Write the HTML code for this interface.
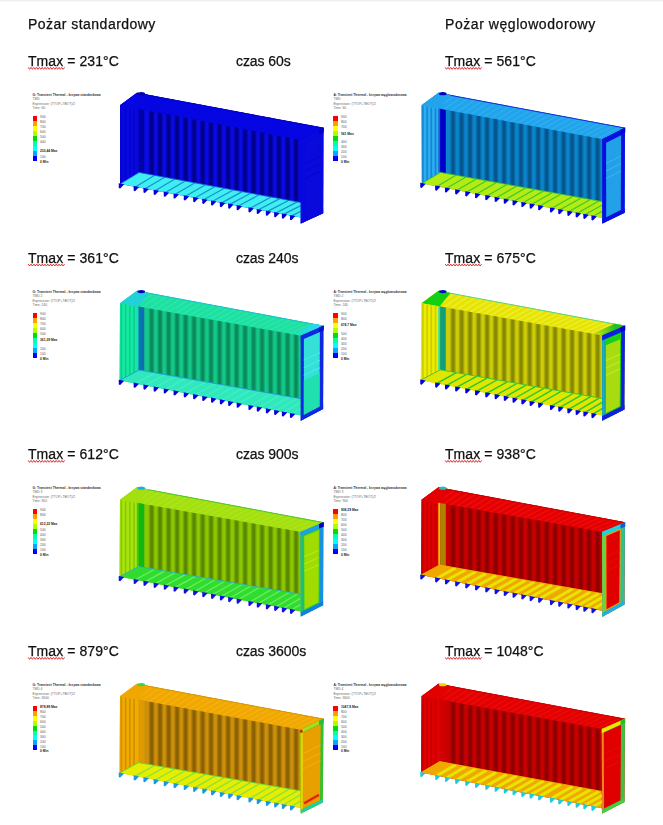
<!DOCTYPE html>
<html><head><meta charset="utf-8"><style>
html,body{margin:0;padding:0;background:#fff;}
body{width:663px;height:825px;position:relative;overflow:hidden;font-family:"Liberation Sans",sans-serif;}
.topbar{position:absolute;left:0;top:0;width:663px;height:1px;background:#f0f0f0;box-shadow:0 1px 0 #f9f9f9;}
.tx{position:absolute;font-size:14px;line-height:14px;color:#111;white-space:nowrap;-webkit-text-stroke:0.25px #111;will-change:transform;}
.h1{letter-spacing:0.47px;}
.h2{letter-spacing:0.56px;}
.tl,.tr{letter-spacing:0.07px;}
.tm{letter-spacing:-0.07px;}
svg{position:absolute;left:0;top:0;filter:blur(0.5px);}
.lt{position:absolute;font-size:3.3px;line-height:3.3px;font-weight:bold;color:#333;white-space:nowrap;}
.ls{position:absolute;font-size:3.3px;line-height:3.2px;color:#6a6a6a;white-space:nowrap;}
.ll{position:absolute;font-size:3.4px;line-height:3.2px;color:#5a5a5a;white-space:nowrap;}
.lm{position:absolute;font-size:3.3px;line-height:3.3px;font-weight:bold;color:#222;white-space:nowrap;}
.lb{position:absolute;width:4.5px;}
</style></head><body>
<div class="topbar"></div>
<svg width="663" height="825" viewBox="0 0 663 825">
<defs><linearGradient id="g1" x1="0" y1="0" x2="1" y2="0"><stop offset="0" stop-color="#000088" stop-opacity="0"/><stop offset="0.38" stop-color="#000088"/><stop offset="0.62" stop-color="#000088"/><stop offset="1" stop-color="#000088" stop-opacity="0"/></linearGradient><clipPath id="fc1"><polygon points="120.0,184.0 139.0,172.4 300.8,202.5 300.8,217.6"/></clipPath><linearGradient id="g2" x1="0" y1="0" x2="1" y2="0"><stop offset="0" stop-color="#05558c" stop-opacity="0"/><stop offset="0.38" stop-color="#05558c"/><stop offset="0.62" stop-color="#05558c"/><stop offset="1" stop-color="#05558c" stop-opacity="0"/></linearGradient><clipPath id="fc2"><polygon points="421.8,183.5 440.5,172.4 602.3,201.6 602.3,217.9"/></clipPath><linearGradient id="g3" x1="0" y1="0" x2="1" y2="0"><stop offset="0" stop-color="#0a8a5a" stop-opacity="0"/><stop offset="0.38" stop-color="#0a8a5a"/><stop offset="0.62" stop-color="#0a8a5a"/><stop offset="1" stop-color="#0a8a5a" stop-opacity="0"/></linearGradient><linearGradient id="rc3" x1="0" y1="0" x2="1" y2="0"><stop offset="0" stop-color="#28d8f0" stop-opacity="0"/><stop offset="0.7" stop-color="#28d8f0"/></linearGradient><clipPath id="fc3"><polygon points="119.6,380.4 139.1,370.0 300.8,398.7 300.8,415.6"/></clipPath><linearGradient id="g4" x1="0" y1="0" x2="1" y2="0"><stop offset="0" stop-color="#868800" stop-opacity="0"/><stop offset="0.38" stop-color="#868800"/><stop offset="0.62" stop-color="#868800"/><stop offset="1" stop-color="#868800" stop-opacity="0"/></linearGradient><linearGradient id="rc4" x1="0" y1="0" x2="1" y2="0"><stop offset="0" stop-color="#20c020" stop-opacity="0"/><stop offset="0.7" stop-color="#20c020"/></linearGradient><clipPath id="fc4"><polygon points="420.8,380.2 440.1,369.8 602.1,398.4 602.1,415.6"/></clipPath><linearGradient id="g5" x1="0" y1="0" x2="1" y2="0"><stop offset="0" stop-color="#5a8700" stop-opacity="0"/><stop offset="0.38" stop-color="#5a8700"/><stop offset="0.62" stop-color="#5a8700"/><stop offset="1" stop-color="#5a8700" stop-opacity="0"/></linearGradient><clipPath id="fc5"><polygon points="119.5,576.7 138.6,566.5 300.5,594.2 300.5,611.4"/></clipPath><linearGradient id="g6" x1="0" y1="0" x2="1" y2="0"><stop offset="0" stop-color="#8c0000" stop-opacity="0"/><stop offset="0.38" stop-color="#8c0000"/><stop offset="0.62" stop-color="#8c0000"/><stop offset="1" stop-color="#8c0000" stop-opacity="0"/></linearGradient><clipPath id="fc6"><polygon points="421.0,575.1 439.5,565.0 602.1,593.6 602.1,610.8"/></clipPath><linearGradient id="g7" x1="0" y1="0" x2="1" y2="0"><stop offset="0" stop-color="#8a6000" stop-opacity="0"/><stop offset="0.38" stop-color="#8a6000"/><stop offset="0.62" stop-color="#8a6000"/><stop offset="1" stop-color="#8a6000" stop-opacity="0"/></linearGradient><clipPath id="fc7"><polygon points="119.6,773.1 138.4,762.6 300.5,790.8 300.5,808.0"/></clipPath><linearGradient id="g8" x1="0" y1="0" x2="1" y2="0"><stop offset="0" stop-color="#8c0000" stop-opacity="0"/><stop offset="0.38" stop-color="#8c0000"/><stop offset="0.62" stop-color="#8c0000"/><stop offset="1" stop-color="#8c0000" stop-opacity="0"/></linearGradient><clipPath id="fc8"><polygon points="421.0,772.6 439.7,761.6 601.8,791.4 601.8,808.3"/></clipPath></defs>
<polygon points="120.0,105.3 137.0,92.8 323.5,127.8 323.2,213.2 300.8,223.6 300.8,217.6 120.0,184.0" fill="#0606e2"/>
<polygon points="120.0,105.3 137.0,92.8 323.5,127.8 300.8,140.0" fill="#0606e2"/>
<polygon points="138.0,93.0 140.5,93.4 123.3,105.9 121.0,105.5" fill="#0606e2"/>
<polygon points="144.9,94.3 147.4,94.7 130.0,107.2 127.7,106.8" fill="#0606e2"/>
<polygon points="151.9,95.6 154.3,96.0 136.7,108.5 134.4,108.1" fill="#0606e2"/>
<polygon points="158.8,96.9 161.2,97.3 143.4,109.8 141.1,109.3" fill="#0606e2"/>
<polygon points="165.7,98.2 168.1,98.6 150.1,111.1 147.8,110.6" fill="#0606e2"/>
<polygon points="172.6,99.5 175.0,99.9 156.8,112.4 154.5,111.9" fill="#0606e2"/>
<polygon points="179.5,100.8 181.9,101.2 163.5,113.7 161.2,113.2" fill="#0606e2"/>
<polygon points="186.4,102.1 188.8,102.5 170.2,114.9 167.9,114.5" fill="#0606e2"/>
<polygon points="193.3,103.4 195.7,103.8 176.9,116.2 174.6,115.8" fill="#0606e2"/>
<polygon points="200.2,104.7 202.6,105.1 183.6,117.5 181.3,117.1" fill="#0606e2"/>
<polygon points="207.1,106.0 209.5,106.4 190.3,118.8 188.0,118.3" fill="#0606e2"/>
<polygon points="214.0,107.3 216.4,107.7 197.0,120.1 194.7,119.6" fill="#0606e2"/>
<polygon points="220.9,108.5 223.3,109.0 203.7,121.4 201.4,120.9" fill="#0606e2"/>
<polygon points="227.8,109.8 230.2,110.3 210.4,122.7 208.1,122.2" fill="#0606e2"/>
<polygon points="234.7,111.1 237.2,111.6 217.1,123.9 214.8,123.5" fill="#0606e2"/>
<polygon points="241.6,112.4 244.1,112.9 223.8,125.2 221.4,124.8" fill="#0606e2"/>
<polygon points="248.6,113.7 251.0,114.2 230.5,126.5 228.1,126.1" fill="#0606e2"/>
<polygon points="255.5,115.0 257.9,115.5 237.2,127.8 234.8,127.3" fill="#0606e2"/>
<polygon points="262.4,116.3 264.8,116.8 243.9,129.1 241.5,128.6" fill="#0606e2"/>
<polygon points="269.3,117.6 271.7,118.1 250.6,130.4 248.2,129.9" fill="#0606e2"/>
<polygon points="276.2,118.9 278.6,119.4 257.3,131.6 254.9,131.2" fill="#0606e2"/>
<polygon points="283.1,120.2 285.5,120.7 264.0,132.9 261.6,132.5" fill="#0606e2"/>
<polygon points="290.0,121.5 292.4,122.0 270.7,134.2 268.3,133.8" fill="#0606e2"/>
<polygon points="296.9,122.8 299.3,123.3 277.4,135.5 275.0,135.1" fill="#0606e2"/>
<polygon points="303.8,124.1 306.2,124.6 284.1,136.8 281.7,136.3" fill="#0606e2"/>
<polygon points="310.7,125.4 313.1,125.9 290.8,138.1 288.4,137.6" fill="#0606e2"/>
<polygon points="317.6,126.7 320.0,127.2 297.5,139.4 295.1,138.9" fill="#0606e2"/>
<line x1="137.0" y1="93.1" x2="323.5" y2="128.1" stroke="#0000b8" stroke-width="0.8"/>
<polygon points="120.0,105.3 137.0,92.8 149.0,95.1 138.0,109.0" fill="#0606e2"/>
<polygon points="120.0,105.3 137.5,108.7 137.5,172.4 120.0,184.0" fill="#0808e0"/>
<rect x="120.6" y="105.9" width="1.6" height="77.7" fill="#0404cc"/>
<rect x="124.8" y="106.7" width="1.6" height="74.3" fill="#0404cc"/>
<rect x="129.0" y="107.5" width="1.6" height="71.0" fill="#0404cc"/>
<rect x="133.2" y="108.3" width="1.6" height="67.6" fill="#0404cc"/>
<polygon points="137.5,108.7 300.8,140.0 300.8,202.5 137.5,172.1" fill="#0a0ae4"/>
<polygon points="148.2,110.7 155.0,112.0 155.0,175.4 148.2,174.1" fill="url(#g1)"/>
<polygon points="156.7,112.3 163.5,113.6 163.5,177.0 156.7,175.7" fill="url(#g1)"/>
<polygon points="165.2,114.0 172.0,115.3 172.0,178.5 165.2,177.3" fill="url(#g1)"/>
<polygon points="173.7,115.6 180.5,116.9 180.5,180.1 173.7,178.9" fill="url(#g1)"/>
<polygon points="182.2,117.2 189.0,118.5 189.0,181.7 182.2,180.4" fill="url(#g1)"/>
<polygon points="190.7,118.9 197.5,120.2 197.5,183.3 190.7,182.0" fill="url(#g1)"/>
<polygon points="199.2,120.5 206.0,121.8 206.0,184.9 199.2,183.6" fill="url(#g1)"/>
<polygon points="207.7,122.1 214.5,123.4 214.5,186.4 207.7,185.2" fill="url(#g1)"/>
<polygon points="216.2,123.8 223.0,125.1 223.0,188.0 216.2,186.8" fill="url(#g1)"/>
<polygon points="224.7,125.4 231.5,126.7 231.5,189.6 224.7,188.3" fill="url(#g1)"/>
<polygon points="233.2,127.0 240.0,128.3 240.0,191.2 233.2,189.9" fill="url(#g1)"/>
<polygon points="241.7,128.7 248.5,130.0 248.5,192.8 241.7,191.5" fill="url(#g1)"/>
<polygon points="250.2,130.3 257.0,131.6 257.0,194.4 250.2,193.1" fill="url(#g1)"/>
<polygon points="258.7,131.9 265.5,133.2 265.5,195.9 258.7,194.7" fill="url(#g1)"/>
<polygon points="267.2,133.6 274.0,134.9 274.0,197.5 267.2,196.2" fill="url(#g1)"/>
<polygon points="275.7,135.2 282.5,136.5 282.5,199.1 275.7,197.8" fill="url(#g1)"/>
<polygon points="284.2,136.8 291.0,138.1 291.0,200.7 284.2,199.4" fill="url(#g1)"/>
<polygon points="292.7,138.4 299.5,139.8 299.5,202.3 292.7,201.0" fill="url(#g1)"/>
<polygon points="136.8,108.5 138.6,108.9 138.6,172.3 136.8,172.0" fill="#0a0ad8"/>
<polygon points="138.6,108.9 144.3,110.0 144.3,173.4 138.6,172.3" fill="#0000a8"/>
<polygon points="120.0,184.0 139.0,172.4 300.8,202.5 300.8,217.6" fill="#3eeef2"/>
<g clip-path="url(#fc1)" stroke="#1a90c8" stroke-width="1.2"><line x1="154.6" y1="175.3" x2="135.4" y2="186.9"/><line x1="164.6" y1="177.2" x2="145.2" y2="188.7"/><line x1="174.9" y1="179.1" x2="155.4" y2="190.6"/><line x1="185.2" y1="181.0" x2="165.5" y2="192.5"/><line x1="195.1" y1="182.8" x2="175.3" y2="194.3"/><line x1="205.5" y1="184.8" x2="185.5" y2="196.2"/><line x1="215.1" y1="186.5" x2="194.9" y2="197.9"/><line x1="224.3" y1="188.3" x2="204.0" y2="199.6"/><line x1="233.2" y1="189.9" x2="212.8" y2="201.2"/><line x1="242.2" y1="191.6" x2="221.6" y2="202.9"/><line x1="250.6" y1="193.2" x2="229.9" y2="204.4"/><line x1="259.2" y1="194.8" x2="238.4" y2="206.0"/><line x1="271.2" y1="197.0" x2="250.2" y2="208.2"/><line x1="279.7" y1="198.6" x2="258.5" y2="209.7"/><line x1="288.9" y1="200.3" x2="267.6" y2="211.4"/><line x1="297.3" y1="201.9" x2="275.9" y2="213.0"/><line x1="305.2" y1="203.3" x2="283.6" y2="214.4"/><line x1="313.4" y1="204.8" x2="291.7" y2="215.9"/></g>
<polyline points="120.0,184.0 139.0,172.4 300.8,202.5" fill="none" stroke="#1a50e0" stroke-width="0.8"/>
<polygon points="118.7,183.2 124.2,184.3 120.2,188.4 118.8,188.0" fill="#0000d8"/>
<polygon points="133.6,186.0 139.1,187.1 135.1,191.2 133.7,190.8" fill="#0000d8"/>
<polygon points="143.4,187.8 148.9,188.9 144.9,193.0 143.5,192.6" fill="#0000d8"/>
<polygon points="153.6,189.7 159.1,190.8 155.1,194.9 153.7,194.5" fill="#0000d8"/>
<polygon points="163.7,191.6 169.2,192.7 165.2,196.8 163.8,196.4" fill="#0000d8"/>
<polygon points="173.5,193.4 179.0,194.5 175.0,198.6 173.6,198.2" fill="#0000d8"/>
<polygon points="183.7,195.3 189.2,196.4 185.2,200.5 183.8,200.1" fill="#0000d8"/>
<polygon points="193.1,197.0 198.6,198.1 194.6,202.2 193.2,201.8" fill="#0000d8"/>
<polygon points="202.2,198.7 207.7,199.8 203.7,203.9 202.3,203.5" fill="#0000d8"/>
<polygon points="211.0,200.4 216.5,201.5 212.5,205.6 211.1,205.2" fill="#0000d8"/>
<polygon points="219.8,202.0 225.3,203.1 221.3,207.2 219.9,206.8" fill="#0000d8"/>
<polygon points="228.1,203.5 233.6,204.6 229.6,208.7 228.2,208.3" fill="#0000d8"/>
<polygon points="236.6,205.1 242.1,206.2 238.1,210.3 236.7,209.9" fill="#0000d8"/>
<polygon points="248.4,207.3 253.9,208.4 249.9,212.5 248.5,212.1" fill="#0000d8"/>
<polygon points="256.7,208.9 262.2,210.0 258.2,214.1 256.8,213.7" fill="#0000d8"/>
<polygon points="265.8,210.6 271.3,211.7 267.3,215.8 265.9,215.4" fill="#0000d8"/>
<polygon points="274.1,212.1 279.6,213.2 275.6,217.3 274.2,216.9" fill="#0000d8"/>
<polygon points="281.8,213.5 287.3,214.6 283.3,218.7 281.9,218.3" fill="#0000d8"/>
<polygon points="289.9,215.0 295.4,216.1 291.4,220.2 290.0,219.8" fill="#0000d8"/>
<polygon points="300.8,140.0 323.5,127.8 323.2,213.2 300.8,223.6" fill="#0808e0"/>
<polygon points="300.8,140.0 304.6,138.0 304.6,221.8 300.8,223.6" fill="#0808e0"/>
<polygon points="300.8,223.6 323.2,213.2 323.2,208.6 300.8,219.0" fill="#0808e0"/>
<polygon points="300.8,140.0 323.5,127.8 323.0,133.2 300.8,145.4" fill="#0808e0"/>
<polygon points="304.6,143.4 319.6,135.3 319.3,210.4 304.6,217.2" fill="#0a0adc"/>
<line x1="304.6" y1="164.0" x2="319.5" y2="156.3" stroke="#0606d0" stroke-width="1.1"/>
<line x1="304.6" y1="171.4" x2="319.5" y2="163.8" stroke="#0606d0" stroke-width="1.1"/>
<line x1="304.6" y1="178.8" x2="319.5" y2="171.4" stroke="#0606d0" stroke-width="1.1"/>
<polygon points="319.0,129.9 323.8,127.5 323.8,132.3 319.0,134.4" fill="#0000c8"/>
<ellipse cx="141.3" cy="93.7" rx="3.8" ry="1.6" fill="#0000b0"/>
<polygon points="421.5,105.3 438.5,92.8 625.0,127.8 624.7,212.8 602.4,223.6 602.3,217.9 421.8,183.5" fill="#22a4ec"/>
<polygon points="421.5,105.3 438.5,92.8 625.0,127.8 602.3,139.2" fill="#22a4ec"/>
<polygon points="439.5,93.0 442.0,93.4 424.8,105.9 422.5,105.5" fill="#2eacf0"/>
<polygon points="446.4,94.3 448.9,94.7 431.5,107.2 429.2,106.7" fill="#2eacf0"/>
<polygon points="453.4,95.6 455.8,96.0 438.2,108.4 435.9,108.0" fill="#2eacf0"/>
<polygon points="460.3,96.9 462.7,97.3 444.9,109.7 442.6,109.3" fill="#2eacf0"/>
<polygon points="467.2,98.2 469.6,98.6 451.6,110.9 449.3,110.5" fill="#2eacf0"/>
<polygon points="474.1,99.5 476.5,99.9 458.3,112.2 456.0,111.8" fill="#2eacf0"/>
<polygon points="481.0,100.8 483.4,101.2 465.0,113.5 462.7,113.0" fill="#2eacf0"/>
<polygon points="487.9,102.1 490.3,102.5 471.7,114.7 469.4,114.3" fill="#2eacf0"/>
<polygon points="494.8,103.4 497.2,103.8 478.4,116.0 476.1,115.5" fill="#2eacf0"/>
<polygon points="501.7,104.7 504.1,105.1 485.1,117.2 482.8,116.8" fill="#2eacf0"/>
<polygon points="508.6,106.0 511.0,106.4 491.8,118.5 489.5,118.0" fill="#2eacf0"/>
<polygon points="515.5,107.3 517.9,107.7 498.5,119.7 496.2,119.3" fill="#2eacf0"/>
<polygon points="522.4,108.5 524.8,109.0 505.2,121.0 502.9,120.6" fill="#2eacf0"/>
<polygon points="529.3,109.8 531.8,110.3 511.9,122.2 509.6,121.8" fill="#2eacf0"/>
<polygon points="536.2,111.1 538.7,111.6 518.6,123.5 516.3,123.1" fill="#2eacf0"/>
<polygon points="543.1,112.4 545.6,112.9 525.3,124.8 522.9,124.3" fill="#2eacf0"/>
<polygon points="550.1,113.7 552.5,114.2 532.0,126.0 529.6,125.6" fill="#2eacf0"/>
<polygon points="557.0,115.0 559.4,115.5 538.7,127.3 536.3,126.8" fill="#2eacf0"/>
<polygon points="563.9,116.3 566.3,116.8 545.4,128.5 543.0,128.1" fill="#2eacf0"/>
<polygon points="570.8,117.6 573.2,118.1 552.1,129.8 549.7,129.3" fill="#2eacf0"/>
<polygon points="577.7,118.9 580.1,119.4 558.8,131.0 556.4,130.6" fill="#2eacf0"/>
<polygon points="584.6,120.2 587.0,120.7 565.5,132.3 563.1,131.9" fill="#2eacf0"/>
<polygon points="591.5,121.5 593.9,122.0 572.2,133.5 569.8,133.1" fill="#2eacf0"/>
<polygon points="598.4,122.8 600.8,123.3 578.9,134.8 576.5,134.4" fill="#2eacf0"/>
<polygon points="605.3,124.1 607.7,124.6 585.6,136.1 583.2,135.6" fill="#2eacf0"/>
<polygon points="612.2,125.4 614.6,125.9 592.3,137.3 589.9,136.9" fill="#2eacf0"/>
<polygon points="619.1,126.7 621.5,127.2 599.0,138.6 596.6,138.1" fill="#2eacf0"/>
<line x1="438.5" y1="93.1" x2="625.0" y2="128.1" stroke="#0a10d0" stroke-width="0.8"/>
<polygon points="421.5,105.3 438.5,92.8 450.5,95.1 439.5,108.9" fill="#22a4ec"/>
<polygon points="421.5,105.3 439.0,108.6 439.0,172.4 421.8,183.5" fill="#2cacf2"/>
<rect x="422.1" y="105.9" width="1.6" height="77.4" fill="#1486d0"/>
<rect x="426.3" y="106.7" width="1.6" height="74.1" fill="#1486d0"/>
<rect x="430.5" y="107.5" width="1.6" height="70.8" fill="#1486d0"/>
<rect x="434.7" y="108.3" width="1.6" height="67.6" fill="#1486d0"/>
<polygon points="439.0,108.6 602.3,139.2 602.3,201.6 439.0,172.1" fill="#0a84ca"/>
<polygon points="449.7,110.6 456.5,111.9 456.5,175.3 449.7,174.1" fill="url(#g2)"/>
<polygon points="458.2,112.2 465.0,113.5 465.0,176.8 458.2,175.6" fill="url(#g2)"/>
<polygon points="466.7,113.8 473.5,115.0 473.5,178.4 466.7,177.1" fill="url(#g2)"/>
<polygon points="475.2,115.4 482.0,116.6 482.0,179.9 475.2,178.7" fill="url(#g2)"/>
<polygon points="483.7,117.0 490.5,118.2 490.5,181.4 483.7,180.2" fill="url(#g2)"/>
<polygon points="492.2,118.6 499.0,119.8 499.0,183.0 492.2,181.7" fill="url(#g2)"/>
<polygon points="500.7,120.1 507.5,121.4 507.5,184.5 500.7,183.3" fill="url(#g2)"/>
<polygon points="509.2,121.7 516.0,123.0 516.0,186.0 509.2,184.8" fill="url(#g2)"/>
<polygon points="517.7,123.3 524.5,124.6 524.5,187.6 517.7,186.3" fill="url(#g2)"/>
<polygon points="526.2,124.9 533.0,126.2 533.0,189.1 526.2,187.9" fill="url(#g2)"/>
<polygon points="534.7,126.5 541.5,127.8 541.5,190.6 534.7,189.4" fill="url(#g2)"/>
<polygon points="543.2,128.1 550.0,129.4 550.0,192.2 543.2,190.9" fill="url(#g2)"/>
<polygon points="551.7,129.7 558.5,131.0 558.5,193.7 551.7,192.5" fill="url(#g2)"/>
<polygon points="560.2,131.3 567.0,132.6 567.0,195.2 560.2,194.0" fill="url(#g2)"/>
<polygon points="568.7,132.9 575.5,134.2 575.5,196.8 568.7,195.5" fill="url(#g2)"/>
<polygon points="577.2,134.5 584.0,135.8 584.0,198.3 577.2,197.1" fill="url(#g2)"/>
<polygon points="585.7,136.1 592.5,137.4 592.5,199.8 585.7,198.6" fill="url(#g2)"/>
<polygon points="594.2,137.7 601.0,139.0 601.0,201.4 594.2,200.1" fill="url(#g2)"/>
<polygon points="438.3,108.5 440.1,108.8 440.1,172.3 438.3,172.0" fill="#1a60d0"/>
<polygon points="440.1,108.8 445.8,109.9 445.8,173.4 440.1,172.3" fill="#0000c8"/>
<polygon points="421.8,183.5 440.5,172.4 602.3,201.6 602.3,217.9" fill="#b2ec14"/>
<g clip-path="url(#fc2)" stroke="#40c828" stroke-width="1.2"><line x1="455.8" y1="175.2" x2="436.9" y2="186.4"/><line x1="465.8" y1="177.0" x2="446.7" y2="188.2"/><line x1="476.2" y1="178.9" x2="456.9" y2="190.2"/><line x1="486.5" y1="180.8" x2="467.0" y2="192.1"/><line x1="496.4" y1="182.6" x2="476.8" y2="194.0"/><line x1="506.8" y1="184.5" x2="487.0" y2="195.9"/><line x1="516.4" y1="186.2" x2="496.4" y2="197.7"/><line x1="525.6" y1="187.9" x2="505.5" y2="199.5"/><line x1="534.6" y1="189.5" x2="514.3" y2="201.1"/><line x1="543.5" y1="191.1" x2="523.1" y2="202.8"/><line x1="552.0" y1="192.7" x2="531.4" y2="204.4"/><line x1="560.6" y1="194.2" x2="539.9" y2="206.0"/><line x1="572.6" y1="196.4" x2="551.7" y2="208.3"/><line x1="581.1" y1="197.9" x2="560.0" y2="209.8"/><line x1="590.3" y1="199.6" x2="569.1" y2="211.6"/><line x1="598.8" y1="201.1" x2="577.4" y2="213.2"/><line x1="606.6" y1="202.6" x2="585.1" y2="214.6"/><line x1="614.8" y1="204.1" x2="593.2" y2="216.2"/></g>
<polyline points="421.8,183.5 440.5,172.4 602.3,201.6" fill="none" stroke="#30b830" stroke-width="0.8"/>
<polygon points="420.2,182.7 425.7,183.8 421.7,187.9 420.3,187.5" fill="#0000e0"/>
<polygon points="435.1,185.5 440.6,186.6 436.6,190.7 435.2,190.3" fill="#0000e0"/>
<polygon points="444.9,187.4 450.4,188.5 446.4,192.6 445.0,192.2" fill="#0000e0"/>
<polygon points="455.1,189.3 460.6,190.4 456.6,194.5 455.2,194.1" fill="#0000e0"/>
<polygon points="465.2,191.2 470.7,192.3 466.7,196.4 465.3,196.0" fill="#0000e0"/>
<polygon points="475.0,193.1 480.5,194.2 476.5,198.3 475.1,197.9" fill="#0000e0"/>
<polygon points="485.2,195.0 490.7,196.1 486.7,200.2 485.3,199.8" fill="#0000e0"/>
<polygon points="494.6,196.8 500.1,197.9 496.1,202.0 494.7,201.6" fill="#0000e0"/>
<polygon points="503.7,198.6 509.2,199.7 505.2,203.8 503.8,203.4" fill="#0000e0"/>
<polygon points="512.5,200.2 518.0,201.3 514.0,205.4 512.6,205.0" fill="#0000e0"/>
<polygon points="521.3,201.9 526.8,203.0 522.8,207.1 521.4,206.7" fill="#0000e0"/>
<polygon points="529.6,203.5 535.1,204.6 531.1,208.7 529.7,208.3" fill="#0000e0"/>
<polygon points="538.1,205.1 543.6,206.2 539.6,210.3 538.2,209.9" fill="#0000e0"/>
<polygon points="549.9,207.4 555.4,208.5 551.4,212.6 550.0,212.2" fill="#0000e0"/>
<polygon points="558.2,209.0 563.7,210.1 559.7,214.2 558.3,213.8" fill="#0000e0"/>
<polygon points="567.3,210.7 572.8,211.8 568.8,215.9 567.4,215.5" fill="#0000e0"/>
<polygon points="575.6,212.3 581.1,213.4 577.1,217.5 575.7,217.1" fill="#0000e0"/>
<polygon points="583.3,213.7 588.8,214.8 584.8,218.9 583.4,218.5" fill="#0000e0"/>
<polygon points="591.4,215.3 596.9,216.4 592.9,220.5 591.5,220.1" fill="#0000e0"/>
<polygon points="602.3,139.2 625.0,127.8 624.7,212.8 602.4,223.6" fill="#0810e0"/>
<polygon points="602.3,139.2 606.1,137.3 606.2,221.8 602.4,223.6" fill="#0810e0"/>
<polygon points="602.4,223.6 624.7,212.8 624.7,208.2 602.4,219.0" fill="#0810e0"/>
<polygon points="602.3,139.2 625.0,127.8 624.5,133.2 602.3,144.6" fill="#0810e0"/>
<polygon points="606.1,142.7 621.1,135.2 620.8,210.1 606.2,217.2" fill="#22a0e8"/>
<line x1="606.1" y1="163.5" x2="621.0" y2="156.1" stroke="#38b0f0" stroke-width="1.1"/>
<line x1="606.1" y1="171.0" x2="621.0" y2="163.6" stroke="#38b0f0" stroke-width="1.1"/>
<line x1="606.1" y1="178.4" x2="621.0" y2="171.1" stroke="#38b0f0" stroke-width="1.1"/>
<polygon points="620.5,129.8 625.3,127.5 625.3,132.3 620.5,134.3" fill="#0000d0"/>
<ellipse cx="442.8" cy="93.7" rx="3.8" ry="1.6" fill="#0000c0"/>
<polygon points="120.0,303.2 137.0,290.7 323.5,325.7 323.1,408.9 300.8,420.7 300.8,415.6 119.6,380.4" fill="#1ee0a0"/>
<polygon points="120.0,303.2 137.0,290.7 323.5,325.7 300.8,335.8" fill="#1ee0a0"/>
<polygon points="138.0,290.9 140.5,291.3 123.3,303.8 121.0,303.4" fill="#2ae6ac"/>
<polygon points="144.9,292.2 147.4,292.6 130.0,305.0 127.7,304.6" fill="#2ae6ac"/>
<polygon points="151.9,293.5 154.3,293.9 136.7,306.2 134.4,305.8" fill="#2ae6ac"/>
<polygon points="158.8,294.8 161.2,295.2 143.4,307.4 141.1,307.0" fill="#2ae6ac"/>
<polygon points="165.7,296.1 168.1,296.5 150.1,308.6 147.8,308.2" fill="#2ae6ac"/>
<polygon points="172.6,297.4 175.0,297.8 156.8,309.8 154.5,309.4" fill="#2ae6ac"/>
<polygon points="179.5,298.7 181.9,299.1 163.5,311.0 161.2,310.6" fill="#2ae6ac"/>
<polygon points="186.4,300.0 188.8,300.4 170.2,312.3 167.9,311.8" fill="#2ae6ac"/>
<polygon points="193.3,301.3 195.7,301.7 176.9,313.5 174.6,313.0" fill="#2ae6ac"/>
<polygon points="200.2,302.6 202.6,303.0 183.6,314.7 181.3,314.2" fill="#2ae6ac"/>
<polygon points="207.1,303.9 209.5,304.3 190.3,315.9 188.0,315.5" fill="#2ae6ac"/>
<polygon points="214.0,305.2 216.4,305.6 197.0,317.1 194.7,316.7" fill="#2ae6ac"/>
<polygon points="220.9,306.4 223.3,306.9 203.7,318.3 201.4,317.9" fill="#2ae6ac"/>
<polygon points="227.8,307.7 230.2,308.2 210.4,319.5 208.1,319.1" fill="#2ae6ac"/>
<polygon points="234.7,309.0 237.2,309.5 217.1,320.7 214.8,320.3" fill="#2ae6ac"/>
<polygon points="241.6,310.3 244.1,310.8 223.8,321.9 221.4,321.5" fill="#2ae6ac"/>
<polygon points="248.6,311.6 251.0,312.1 230.5,323.1 228.1,322.7" fill="#2ae6ac"/>
<polygon points="255.5,312.9 257.9,313.4 237.2,324.3 234.8,323.9" fill="#2ae6ac"/>
<polygon points="262.4,314.2 264.8,314.7 243.9,325.5 241.5,325.1" fill="#2ae6ac"/>
<polygon points="269.3,315.5 271.7,316.0 250.6,326.7 248.2,326.3" fill="#2ae6ac"/>
<polygon points="276.2,316.8 278.6,317.3 257.3,328.0 254.9,327.5" fill="#2ae6ac"/>
<polygon points="283.1,318.1 285.5,318.6 264.0,329.2 261.6,328.7" fill="#2ae6ac"/>
<polygon points="290.0,319.4 292.4,319.9 270.7,330.4 268.3,329.9" fill="#2ae6ac"/>
<polygon points="296.9,320.7 299.3,321.2 277.4,331.6 275.0,331.2" fill="#2ae6ac"/>
<polygon points="303.8,322.0 306.2,322.5 284.1,332.8 281.7,332.4" fill="#2ae6ac"/>
<polygon points="310.7,323.3 313.1,323.8 290.8,334.0 288.4,333.6" fill="#2ae6ac"/>
<polygon points="317.6,324.6 320.0,325.1 297.5,335.2 295.1,334.8" fill="#2ae6ac"/>
<line x1="137.0" y1="291.0" x2="323.5" y2="326.0" stroke="#18b8e0" stroke-width="0.8"/>
<polygon points="313.2,323.8 323.5,325.7 300.8,335.8 290.9,334.0" fill="url(#rc3)"/>
<polygon points="120.0,303.2 137.0,290.7 149.0,293.0 138.0,306.7" fill="#22d0d8"/>
<polygon points="120.0,303.2 137.5,306.4 137.5,370.0 119.6,380.4" fill="#12ec9e"/>
<rect x="120.6" y="303.8" width="1.6" height="76.1" fill="#14c896"/>
<rect x="124.8" y="304.6" width="1.6" height="73.1" fill="#14c896"/>
<rect x="129.0" y="305.3" width="1.6" height="70.1" fill="#14c896"/>
<rect x="133.2" y="306.1" width="1.6" height="67.1" fill="#14c896"/>
<polygon points="137.5,306.4 300.8,335.8 300.8,398.7 137.5,369.7" fill="#14c88a"/>
<polygon points="148.2,308.3 155.0,309.5 155.0,372.8 148.2,371.6" fill="url(#g3)"/>
<polygon points="156.7,309.8 163.5,311.0 163.5,374.3 156.7,373.1" fill="url(#g3)"/>
<polygon points="165.2,311.4 172.0,312.6 172.0,375.8 165.2,374.6" fill="url(#g3)"/>
<polygon points="173.7,312.9 180.5,314.1 180.5,377.3 173.7,376.1" fill="url(#g3)"/>
<polygon points="182.2,314.4 189.0,315.6 189.0,378.9 182.2,377.6" fill="url(#g3)"/>
<polygon points="190.7,315.9 197.5,317.2 197.5,380.4 190.7,379.2" fill="url(#g3)"/>
<polygon points="199.2,317.5 206.0,318.7 206.0,381.9 199.2,380.7" fill="url(#g3)"/>
<polygon points="207.7,319.0 214.5,320.2 214.5,383.4 207.7,382.2" fill="url(#g3)"/>
<polygon points="216.2,320.5 223.0,321.8 223.0,384.9 216.2,383.7" fill="url(#g3)"/>
<polygon points="224.7,322.1 231.5,323.3 231.5,386.4 224.7,385.2" fill="url(#g3)"/>
<polygon points="233.2,323.6 240.0,324.8 240.0,387.9 233.2,386.7" fill="url(#g3)"/>
<polygon points="241.7,325.1 248.5,326.4 248.5,389.4 241.7,388.2" fill="url(#g3)"/>
<polygon points="250.2,326.7 257.0,327.9 257.0,390.9 250.2,389.7" fill="url(#g3)"/>
<polygon points="258.7,328.2 265.5,329.4 265.5,392.4 258.7,391.2" fill="url(#g3)"/>
<polygon points="267.2,329.7 274.0,331.0 274.0,393.9 267.2,392.7" fill="url(#g3)"/>
<polygon points="275.7,331.3 282.5,332.5 282.5,395.5 275.7,394.2" fill="url(#g3)"/>
<polygon points="284.2,332.8 291.0,334.0 291.0,397.0 284.2,395.8" fill="url(#g3)"/>
<polygon points="292.7,334.3 299.5,335.6 299.5,398.5 292.7,397.3" fill="url(#g3)"/>
<polygon points="136.8,306.2 138.6,306.6 138.6,369.9 136.8,369.6" fill="#20d0e0"/>
<polygon points="138.6,306.6 144.3,307.6 144.3,370.9 138.6,369.9" fill="#0a70b0"/>
<polygon points="119.6,380.4 139.1,370.0 300.8,398.7 300.8,415.6" fill="#30e8bc"/>
<g clip-path="url(#fc3)" stroke="#40f0c8" stroke-width="1.2"><line x1="155.1" y1="372.9" x2="135.4" y2="383.5"/><line x1="165.0" y1="374.7" x2="145.2" y2="385.4"/><line x1="175.4" y1="376.5" x2="155.4" y2="387.4"/><line x1="185.6" y1="378.4" x2="165.5" y2="389.3"/><line x1="195.5" y1="380.1" x2="175.3" y2="391.2"/><line x1="205.9" y1="382.0" x2="185.5" y2="393.2"/><line x1="215.4" y1="383.7" x2="194.9" y2="395.0"/><line x1="224.6" y1="385.4" x2="204.0" y2="396.8"/><line x1="233.5" y1="386.9" x2="212.8" y2="398.5"/><line x1="242.4" y1="388.5" x2="221.6" y2="400.2"/><line x1="250.8" y1="390.1" x2="229.9" y2="401.8"/><line x1="259.5" y1="391.6" x2="238.4" y2="403.5"/><line x1="271.4" y1="393.7" x2="250.2" y2="405.8"/><line x1="279.8" y1="395.3" x2="258.5" y2="407.4"/><line x1="289.0" y1="396.9" x2="267.6" y2="409.2"/><line x1="297.5" y1="398.4" x2="275.9" y2="410.8"/><line x1="305.3" y1="399.8" x2="283.6" y2="412.3"/><line x1="313.5" y1="401.3" x2="291.7" y2="413.8"/></g>
<polyline points="119.6,380.4 139.1,370.0 300.8,398.7" fill="none" stroke="#2090e0" stroke-width="0.8"/>
<polygon points="118.7,379.7 124.2,380.8 120.2,384.9 118.8,384.5" fill="#0000e0"/>
<polygon points="133.6,382.6 139.1,383.7 135.1,387.8 133.7,387.4" fill="#0000e0"/>
<polygon points="143.4,384.5 148.9,385.6 144.9,389.7 143.5,389.3" fill="#0000e0"/>
<polygon points="153.6,386.5 159.1,387.6 155.1,391.7 153.7,391.3" fill="#0000e0"/>
<polygon points="163.7,388.4 169.2,389.5 165.2,393.6 163.8,393.2" fill="#0000e0"/>
<polygon points="173.5,390.3 179.0,391.4 175.0,395.5 173.6,395.1" fill="#0000e0"/>
<polygon points="183.7,392.3 189.2,393.4 185.2,397.5 183.8,397.1" fill="#0000e0"/>
<polygon points="193.1,394.1 198.6,395.2 194.6,399.3 193.2,398.9" fill="#0000e0"/>
<polygon points="202.2,395.9 207.7,397.0 203.7,401.1 202.3,400.7" fill="#0000e0"/>
<polygon points="211.0,397.6 216.5,398.7 212.5,402.8 211.1,402.4" fill="#0000e0"/>
<polygon points="219.8,399.3 225.3,400.4 221.3,404.5 219.9,404.1" fill="#0000e0"/>
<polygon points="228.1,400.9 233.6,402.0 229.6,406.1 228.2,405.7" fill="#0000e0"/>
<polygon points="236.6,402.6 242.1,403.7 238.1,407.8 236.7,407.4" fill="#0000e0"/>
<polygon points="248.4,404.9 253.9,406.0 249.9,410.1 248.5,409.7" fill="#0000e0"/>
<polygon points="256.7,406.5 262.2,407.6 258.2,411.7 256.8,411.3" fill="#0000e0"/>
<polygon points="265.8,408.3 271.3,409.4 267.3,413.5 265.9,413.1" fill="#0000e0"/>
<polygon points="274.1,409.9 279.6,411.0 275.6,415.1 274.2,414.7" fill="#0000e0"/>
<polygon points="281.8,411.4 287.3,412.5 283.3,416.6 281.9,416.2" fill="#0000e0"/>
<polygon points="289.9,412.9 295.4,414.0 291.4,418.1 290.0,417.7" fill="#0000e0"/>
<polygon points="300.8,335.8 323.5,325.7 323.1,408.9 300.8,420.7" fill="#0c28e0"/>
<polygon points="300.8,335.8 303.8,334.5 303.8,419.1 300.8,420.7" fill="#0c28e0"/>
<polygon points="300.8,420.7 323.1,408.9 323.1,404.5 300.8,416.3" fill="#0c28e0"/>
<polygon points="300.8,335.8 323.5,325.7 323.0,330.3 300.8,340.4" fill="#0c28e0"/>
<polygon points="303.8,339.1 319.9,331.9 319.5,406.4 303.8,414.7" fill="#34e0d8"/>
<polygon points="303.8,380.7 319.7,372.9 319.5,406.4 303.8,414.7" fill="#20e0b0"/>
<line x1="303.8" y1="360.2" x2="319.8" y2="352.8" stroke="#48eae6" stroke-width="1.1"/>
<line x1="303.8" y1="367.8" x2="319.7" y2="360.2" stroke="#48eae6" stroke-width="1.1"/>
<line x1="303.8" y1="375.4" x2="319.7" y2="367.7" stroke="#48eae6" stroke-width="1.1"/>
<polygon points="319.0,327.4 323.8,325.4 323.8,330.2 319.0,331.9" fill="#0010d0"/>
<ellipse cx="141.3" cy="291.6" rx="3.8" ry="1.6" fill="#0000c0"/>
<polygon points="421.5,303.2 438.5,290.7 625.0,325.7 624.5,409.5 602.1,420.7 602.1,415.6 420.8,380.2" fill="#e6e400"/>
<polygon points="421.5,303.2 438.5,290.7 625.0,325.7 602.1,335.5" fill="#e6e400"/>
<polygon points="439.5,290.9 442.0,291.3 424.8,303.8 422.5,303.4" fill="#eeec30"/>
<polygon points="446.4,292.2 448.9,292.6 431.5,305.0 429.2,304.6" fill="#eeec30"/>
<polygon points="453.4,293.5 455.8,293.9 438.2,306.2 435.9,305.8" fill="#eeec30"/>
<polygon points="460.3,294.8 462.7,295.2 444.9,307.4 442.6,307.0" fill="#eeec30"/>
<polygon points="467.2,296.1 469.6,296.5 451.6,308.6 449.3,308.2" fill="#eeec30"/>
<polygon points="474.1,297.4 476.5,297.8 458.3,309.8 455.9,309.4" fill="#eeec30"/>
<polygon points="481.0,298.7 483.4,299.1 465.0,311.0 462.6,310.6" fill="#eeec30"/>
<polygon points="487.9,300.0 490.3,300.4 471.7,312.2 469.3,311.8" fill="#eeec30"/>
<polygon points="494.8,301.3 497.2,301.7 478.4,313.4 476.0,312.9" fill="#eeec30"/>
<polygon points="501.7,302.6 504.1,303.0 485.0,314.6 482.7,314.1" fill="#eeec30"/>
<polygon points="508.6,303.9 511.0,304.3 491.7,315.8 489.4,315.3" fill="#eeec30"/>
<polygon points="515.5,305.2 517.9,305.6 498.4,317.0 496.1,316.5" fill="#eeec30"/>
<polygon points="522.4,306.4 524.8,306.9 505.1,318.2 502.8,317.7" fill="#eeec30"/>
<polygon points="529.3,307.7 531.8,308.2 511.8,319.4 509.5,318.9" fill="#eeec30"/>
<polygon points="536.2,309.0 538.7,309.5 518.5,320.5 516.1,320.1" fill="#eeec30"/>
<polygon points="543.1,310.3 545.6,310.8 525.2,321.7 522.8,321.3" fill="#eeec30"/>
<polygon points="550.1,311.6 552.5,312.1 531.9,322.9 529.5,322.5" fill="#eeec30"/>
<polygon points="557.0,312.9 559.4,313.4 538.6,324.1 536.2,323.7" fill="#eeec30"/>
<polygon points="563.9,314.2 566.3,314.7 545.2,325.3 542.9,324.9" fill="#eeec30"/>
<polygon points="570.8,315.5 573.2,316.0 551.9,326.5 549.6,326.1" fill="#eeec30"/>
<polygon points="577.7,316.8 580.1,317.3 558.6,327.7 556.3,327.3" fill="#eeec30"/>
<polygon points="584.6,318.1 587.0,318.6 565.3,328.9 563.0,328.5" fill="#eeec30"/>
<polygon points="591.5,319.4 593.9,319.9 572.0,330.1 569.7,329.7" fill="#eeec30"/>
<polygon points="598.4,320.7 600.8,321.2 578.7,331.3 576.3,330.9" fill="#eeec30"/>
<polygon points="605.3,322.0 607.7,322.5 585.4,332.5 583.0,332.1" fill="#eeec30"/>
<polygon points="612.2,323.3 614.6,323.8 592.1,333.7 589.7,333.3" fill="#eeec30"/>
<polygon points="619.1,324.6 621.5,325.1 598.8,334.9 596.4,334.5" fill="#eeec30"/>
<line x1="438.5" y1="291.0" x2="625.0" y2="326.0" stroke="#30d0b0" stroke-width="0.8"/>
<polygon points="614.7,323.8 625.0,325.7 602.1,335.5 592.2,333.7" fill="url(#rc4)"/>
<polygon points="421.5,303.2 438.5,290.7 450.5,293.0 439.5,306.6" fill="#12d012"/>
<polygon points="421.5,303.2 439.0,306.3 439.0,369.8 420.8,380.2" fill="#ecec00"/>
<rect x="422.1" y="303.8" width="1.6" height="75.7" fill="#cccc00"/>
<rect x="426.3" y="304.6" width="1.6" height="72.7" fill="#cccc00"/>
<rect x="430.5" y="305.3" width="1.6" height="69.7" fill="#cccc00"/>
<rect x="434.7" y="306.1" width="1.6" height="66.6" fill="#cccc00"/>
<polygon points="439.0,306.3 602.1,335.5 602.1,398.4 439.0,369.6" fill="#cccc08"/>
<polygon points="449.7,308.2 456.5,309.5 456.5,372.7 449.7,371.5" fill="url(#g4)"/>
<polygon points="458.2,309.8 465.0,311.0 465.0,374.2 458.2,373.0" fill="url(#g4)"/>
<polygon points="466.7,311.3 473.5,312.5 473.5,375.7 466.7,374.5" fill="url(#g4)"/>
<polygon points="475.2,312.8 482.0,314.0 482.0,377.2 475.2,376.0" fill="url(#g4)"/>
<polygon points="483.7,314.3 490.5,315.5 490.5,378.7 483.7,377.5" fill="url(#g4)"/>
<polygon points="492.2,315.8 499.0,317.1 499.0,380.2 492.2,379.0" fill="url(#g4)"/>
<polygon points="500.7,317.4 507.5,318.6 507.5,381.7 500.7,380.5" fill="url(#g4)"/>
<polygon points="509.2,318.9 516.0,320.1 516.0,383.2 509.2,382.0" fill="url(#g4)"/>
<polygon points="517.7,320.4 524.5,321.6 524.5,384.7 517.7,383.5" fill="url(#g4)"/>
<polygon points="526.2,321.9 533.0,323.1 533.0,386.2 526.2,385.0" fill="url(#g4)"/>
<polygon points="534.7,323.4 541.5,324.7 541.5,387.7 534.7,386.5" fill="url(#g4)"/>
<polygon points="543.2,325.0 550.0,326.2 550.0,389.2 543.2,388.0" fill="url(#g4)"/>
<polygon points="551.7,326.5 558.5,327.7 558.5,390.7 551.7,389.5" fill="url(#g4)"/>
<polygon points="560.2,328.0 567.0,329.2 567.0,392.2 560.2,391.0" fill="url(#g4)"/>
<polygon points="568.7,329.5 575.5,330.7 575.5,393.7 568.7,392.5" fill="url(#g4)"/>
<polygon points="577.2,331.0 584.0,332.3 584.0,395.2 577.2,394.0" fill="url(#g4)"/>
<polygon points="585.7,332.6 592.5,333.8 592.5,396.7 585.7,395.5" fill="url(#g4)"/>
<polygon points="594.2,334.1 601.0,335.3 601.0,398.2 594.2,397.0" fill="url(#g4)"/>
<polygon points="438.3,306.2 440.1,306.5 440.1,369.8 438.3,369.5" fill="#20e0c0"/>
<polygon points="440.1,306.5 445.8,307.5 445.8,370.8 440.1,369.8" fill="#10a07c"/>
<polygon points="420.8,380.2 440.1,369.8 602.1,398.4 602.1,415.6" fill="#e0e600"/>
<g clip-path="url(#fc4)" stroke="#28c828" stroke-width="1.4"><line x1="456.4" y1="372.7" x2="436.9" y2="383.3"/><line x1="466.4" y1="374.5" x2="446.7" y2="385.3"/><line x1="476.7" y1="376.4" x2="456.9" y2="387.2"/><line x1="487.0" y1="378.2" x2="467.0" y2="389.2"/><line x1="496.9" y1="380.0" x2="476.8" y2="391.1"/><line x1="507.3" y1="381.8" x2="487.0" y2="393.1"/><line x1="516.8" y1="383.5" x2="496.4" y2="395.0"/><line x1="526.1" y1="385.2" x2="505.5" y2="396.7"/><line x1="535.0" y1="386.8" x2="514.3" y2="398.5"/><line x1="543.9" y1="388.4" x2="523.1" y2="400.2"/><line x1="552.4" y1="389.9" x2="531.4" y2="401.8"/><line x1="561.0" y1="391.4" x2="539.9" y2="403.5"/><line x1="573.0" y1="393.5" x2="551.7" y2="405.8"/><line x1="581.4" y1="395.1" x2="560.0" y2="407.4"/><line x1="590.6" y1="396.7" x2="569.1" y2="409.2"/><line x1="599.1" y1="398.2" x2="577.4" y2="410.8"/><line x1="606.9" y1="399.6" x2="585.1" y2="412.3"/><line x1="615.1" y1="401.1" x2="593.2" y2="413.9"/></g>
<polyline points="420.8,380.2 440.1,369.8 602.1,398.4" fill="none" stroke="#20c040" stroke-width="0.8"/>
<polygon points="420.2,379.5 425.7,380.6 421.7,384.7 420.3,384.3" fill="#0000e0"/>
<polygon points="435.1,382.5 440.6,383.6 436.6,387.7 435.2,387.3" fill="#0000e0"/>
<polygon points="444.9,384.4 450.4,385.5 446.4,389.6 445.0,389.2" fill="#0000e0"/>
<polygon points="455.1,386.4 460.6,387.5 456.6,391.6 455.2,391.2" fill="#0000e0"/>
<polygon points="465.2,388.3 470.7,389.4 466.7,393.5 465.3,393.1" fill="#0000e0"/>
<polygon points="475.0,390.2 480.5,391.3 476.5,395.4 475.1,395.0" fill="#0000e0"/>
<polygon points="485.2,392.2 490.7,393.3 486.7,397.4 485.3,397.0" fill="#0000e0"/>
<polygon points="494.6,394.1 500.1,395.2 496.1,399.3 494.7,398.9" fill="#0000e0"/>
<polygon points="503.7,395.8 509.2,396.9 505.2,401.0 503.8,400.6" fill="#0000e0"/>
<polygon points="512.5,397.6 518.0,398.7 514.0,402.8 512.6,402.4" fill="#0000e0"/>
<polygon points="521.3,399.3 526.8,400.4 522.8,404.5 521.4,404.1" fill="#0000e0"/>
<polygon points="529.6,400.9 535.1,402.0 531.1,406.1 529.7,405.7" fill="#0000e0"/>
<polygon points="538.1,402.6 543.6,403.7 539.6,407.8 538.2,407.4" fill="#0000e0"/>
<polygon points="549.9,404.9 555.4,406.0 551.4,410.1 550.0,409.7" fill="#0000e0"/>
<polygon points="558.2,406.5 563.7,407.6 559.7,411.7 558.3,411.3" fill="#0000e0"/>
<polygon points="567.3,408.3 572.8,409.4 568.8,413.5 567.4,413.1" fill="#0000e0"/>
<polygon points="575.6,409.9 581.1,411.0 577.1,415.1 575.7,414.7" fill="#0000e0"/>
<polygon points="583.3,411.4 588.8,412.5 584.8,416.6 583.4,416.2" fill="#0000e0"/>
<polygon points="591.4,413.0 596.9,414.1 592.9,418.2 591.5,417.8" fill="#0000e0"/>
<polygon points="602.1,335.5 625.0,325.7 624.5,409.5 602.1,420.7" fill="#0c20e0"/>
<polygon points="602.1,335.5 604.9,334.3 604.9,419.3 602.1,420.7" fill="#18b0c0"/>
<polygon points="602.1,420.7 624.5,409.5 624.5,404.9 602.1,416.1" fill="#0c20e0"/>
<polygon points="602.1,335.5 625.0,325.7 624.5,330.7 602.1,340.5" fill="#0c20e0"/>
<polygon points="604.9,339.3 621.2,332.3 620.7,406.8 604.9,414.7" fill="#10d010"/>
<polygon points="606.0,340.2 620.2,334.2 619.7,406.2 606.0,413.1" fill="#a8dc10"/>
<polygon points="606.0,340.2 620.2,334.2 620.2,339.2 606.0,345.3" fill="#18d018"/>
<line x1="606.0" y1="360.6" x2="620.1" y2="354.3" stroke="#c0e830" stroke-width="1.1"/>
<line x1="606.0" y1="367.9" x2="620.0" y2="361.5" stroke="#c0e830" stroke-width="1.1"/>
<line x1="606.0" y1="375.2" x2="620.0" y2="368.7" stroke="#c0e830" stroke-width="1.1"/>
<polygon points="620.5,327.3 625.3,325.4 625.3,330.2 620.5,331.8" fill="#0000d0"/>
<ellipse cx="442.8" cy="291.6" rx="3.8" ry="1.6" fill="#0010c0"/>
<polygon points="120.0,499.8 137.0,487.3 323.5,522.3 323.1,605.3 300.8,616.5 300.5,611.4 119.5,576.7" fill="#a4e010"/>
<polygon points="120.0,499.8 137.0,487.3 323.5,522.3 300.5,531.9" fill="#a4e010"/>
<polygon points="138.0,487.5 140.5,487.9 123.3,500.4 121.0,500.0" fill="#acE41c"/>
<polygon points="144.9,488.8 147.4,489.2 130.0,501.6 127.7,501.2" fill="#acE41c"/>
<polygon points="151.9,490.1 154.3,490.5 136.7,502.8 134.4,502.4" fill="#acE41c"/>
<polygon points="158.8,491.4 161.2,491.8 143.4,504.0 141.1,503.5" fill="#acE41c"/>
<polygon points="165.7,492.7 168.1,493.1 150.1,505.1 147.7,504.7" fill="#acE41c"/>
<polygon points="172.6,494.0 175.0,494.4 156.8,506.3 154.4,505.9" fill="#acE41c"/>
<polygon points="179.5,495.3 181.9,495.7 163.5,507.5 161.1,507.1" fill="#acE41c"/>
<polygon points="186.4,496.6 188.8,497.0 170.1,508.7 167.8,508.3" fill="#acE41c"/>
<polygon points="193.3,497.9 195.7,498.3 176.8,509.9 174.5,509.5" fill="#acE41c"/>
<polygon points="200.2,499.2 202.6,499.6 183.5,511.1 181.2,510.7" fill="#acE41c"/>
<polygon points="207.1,500.5 209.5,500.9 190.2,512.3 187.9,511.9" fill="#acE41c"/>
<polygon points="214.0,501.8 216.4,502.2 196.9,513.5 194.5,513.1" fill="#acE41c"/>
<polygon points="220.9,503.1 223.3,503.5 203.6,514.7 201.2,514.2" fill="#acE41c"/>
<polygon points="227.8,504.3 230.2,504.8 210.2,515.9 207.9,515.4" fill="#acE41c"/>
<polygon points="234.7,505.6 237.2,506.1 216.9,517.0 214.6,516.6" fill="#acE41c"/>
<polygon points="241.6,506.9 244.1,507.4 223.6,518.2 221.3,517.8" fill="#acE41c"/>
<polygon points="248.6,508.2 251.0,508.7 230.3,519.4 228.0,519.0" fill="#acE41c"/>
<polygon points="255.5,509.5 257.9,510.0 237.0,520.6 234.7,520.2" fill="#acE41c"/>
<polygon points="262.4,510.8 264.8,511.3 243.7,521.8 241.3,521.4" fill="#acE41c"/>
<polygon points="269.3,512.1 271.7,512.6 250.4,523.0 248.0,522.6" fill="#acE41c"/>
<polygon points="276.2,513.4 278.6,513.9 257.0,524.2 254.7,523.8" fill="#acE41c"/>
<polygon points="283.1,514.7 285.5,515.2 263.7,525.4 261.4,524.9" fill="#acE41c"/>
<polygon points="290.0,516.0 292.4,516.5 270.4,526.5 268.1,526.1" fill="#acE41c"/>
<polygon points="296.9,517.3 299.3,517.8 277.1,527.7 274.8,527.3" fill="#acE41c"/>
<polygon points="303.8,518.6 306.2,519.1 283.8,528.9 281.4,528.5" fill="#acE41c"/>
<polygon points="310.7,519.9 313.1,520.4 290.5,530.1 288.1,529.7" fill="#acE41c"/>
<polygon points="317.6,521.2 320.0,521.7 297.2,531.3 294.8,530.9" fill="#acE41c"/>
<line x1="137.0" y1="487.6" x2="323.5" y2="522.6" stroke="#30c030" stroke-width="0.8"/>
<polygon points="120.0,499.8 137.0,487.3 149.0,489.6 138.0,503.2" fill="#a4e010"/>
<polygon points="120.0,499.8 137.5,502.9 137.5,566.5 119.5,576.7" fill="#a8e410"/>
<rect x="120.6" y="500.4" width="1.6" height="75.7" fill="#88c800"/>
<rect x="124.8" y="501.2" width="1.6" height="72.7" fill="#88c800"/>
<rect x="129.0" y="501.9" width="1.6" height="69.7" fill="#88c800"/>
<rect x="133.2" y="502.6" width="1.6" height="66.7" fill="#88c800"/>
<polygon points="137.5,502.9 300.5,531.9 300.5,594.2 137.5,566.3" fill="#8cc800"/>
<polygon points="148.2,504.8 155.0,506.0 155.0,569.3 148.2,568.1" fill="url(#g5)"/>
<polygon points="156.7,506.3 163.5,507.5 163.5,570.8 156.7,569.6" fill="url(#g5)"/>
<polygon points="165.2,507.8 172.0,509.0 172.0,572.2 165.2,571.1" fill="url(#g5)"/>
<polygon points="173.7,509.3 180.5,510.6 180.5,573.7 173.7,572.5" fill="url(#g5)"/>
<polygon points="182.2,510.9 189.0,512.1 189.0,575.1 182.2,574.0" fill="url(#g5)"/>
<polygon points="190.7,512.4 197.5,513.6 197.5,576.6 190.7,575.4" fill="url(#g5)"/>
<polygon points="199.2,513.9 206.0,515.1 206.0,578.0 199.2,576.9" fill="url(#g5)"/>
<polygon points="207.7,515.4 214.5,516.6 214.5,579.5 207.7,578.3" fill="url(#g5)"/>
<polygon points="216.2,516.9 223.0,518.1 223.0,580.9 216.2,579.8" fill="url(#g5)"/>
<polygon points="224.7,518.4 231.5,519.6 231.5,582.4 224.7,581.2" fill="url(#g5)"/>
<polygon points="233.2,519.9 240.0,521.1 240.0,583.8 233.2,582.7" fill="url(#g5)"/>
<polygon points="241.7,521.4 248.5,522.7 248.5,585.3 241.7,584.1" fill="url(#g5)"/>
<polygon points="250.2,523.0 257.0,524.2 257.0,586.8 250.2,585.6" fill="url(#g5)"/>
<polygon points="258.7,524.5 265.5,525.7 265.5,588.2 258.7,587.0" fill="url(#g5)"/>
<polygon points="267.2,526.0 274.0,527.2 274.0,589.7 267.2,588.5" fill="url(#g5)"/>
<polygon points="275.7,527.5 282.5,528.7 282.5,591.1 275.7,590.0" fill="url(#g5)"/>
<polygon points="284.2,529.0 291.0,530.2 291.0,592.6 284.2,591.4" fill="url(#g5)"/>
<polygon points="292.7,530.5 299.5,531.7 299.5,594.0 292.7,592.9" fill="url(#g5)"/>
<polygon points="136.8,502.8 138.6,503.1 138.6,566.5 136.8,566.2" fill="#30d020"/>
<polygon points="138.6,503.1 144.3,504.1 144.3,567.5 138.6,566.5" fill="#10b810"/>
<polygon points="119.5,576.7 138.6,566.5 300.5,594.2 300.5,611.4" fill="#30dc30"/>
<g clip-path="url(#fc5)" stroke="#70ee60" stroke-width="1.2"><line x1="154.7" y1="569.3" x2="135.4" y2="579.7"/><line x1="164.7" y1="571.1" x2="145.2" y2="581.6"/><line x1="175.1" y1="572.8" x2="155.4" y2="583.6"/><line x1="185.3" y1="574.6" x2="165.5" y2="585.5"/><line x1="195.3" y1="576.4" x2="175.3" y2="587.4"/><line x1="205.7" y1="578.2" x2="185.5" y2="589.4"/><line x1="215.2" y1="579.8" x2="194.9" y2="591.2"/><line x1="224.5" y1="581.4" x2="204.0" y2="592.9"/><line x1="233.4" y1="583.0" x2="212.8" y2="594.6"/><line x1="242.4" y1="584.5" x2="221.6" y2="596.3"/><line x1="250.8" y1="586.0" x2="229.9" y2="597.9"/><line x1="259.5" y1="587.5" x2="238.4" y2="599.5"/><line x1="271.5" y1="589.6" x2="250.2" y2="601.8"/><line x1="279.9" y1="591.0" x2="258.5" y2="603.3"/><line x1="289.2" y1="592.6" x2="267.6" y2="605.1"/><line x1="297.6" y1="594.1" x2="275.9" y2="606.7"/><line x1="305.4" y1="595.4" x2="283.6" y2="608.2"/><line x1="313.7" y1="596.9" x2="291.7" y2="609.7"/></g>
<polyline points="119.5,576.7 138.6,566.5 300.5,594.2" fill="none" stroke="#20a8e0" stroke-width="0.8"/>
<polygon points="118.7,576.0 124.2,577.1 120.2,581.2 118.8,580.8" fill="#1010e0"/>
<polygon points="133.6,578.9 139.1,580.0 135.1,584.1 133.7,583.7" fill="#1010e0"/>
<polygon points="143.4,580.7 148.9,581.8 144.9,585.9 143.5,585.5" fill="#1010e0"/>
<polygon points="153.6,582.7 159.1,583.8 155.1,587.9 153.7,587.5" fill="#1010e0"/>
<polygon points="163.7,584.6 169.2,585.7 165.2,589.8 163.8,589.4" fill="#1010e0"/>
<polygon points="173.5,586.5 179.0,587.6 175.0,591.7 173.6,591.3" fill="#1010e0"/>
<polygon points="183.7,588.5 189.2,589.6 185.2,593.7 183.8,593.3" fill="#1010e0"/>
<polygon points="193.1,590.3 198.6,591.4 194.6,595.5 193.2,595.1" fill="#1010e0"/>
<polygon points="202.2,592.0 207.7,593.1 203.7,597.2 202.3,596.8" fill="#1010e0"/>
<polygon points="211.0,593.7 216.5,594.8 212.5,598.9 211.1,598.5" fill="#1010e0"/>
<polygon points="219.8,595.4 225.3,596.5 221.3,600.6 219.9,600.2" fill="#1010e0"/>
<polygon points="228.1,597.0 233.6,598.1 229.6,602.2 228.2,601.8" fill="#1010e0"/>
<polygon points="236.6,598.6 242.1,599.7 238.1,603.8 236.7,603.4" fill="#1010e0"/>
<polygon points="248.4,600.9 253.9,602.0 249.9,606.1 248.5,605.7" fill="#1010e0"/>
<polygon points="256.7,602.5 262.2,603.6 258.2,607.7 256.8,607.3" fill="#1010e0"/>
<polygon points="265.8,604.2 271.3,605.3 267.3,609.4 265.9,609.0" fill="#1010e0"/>
<polygon points="274.1,605.8 279.6,606.9 275.6,611.0 274.2,610.6" fill="#1010e0"/>
<polygon points="281.8,607.3 287.3,608.4 283.3,612.5 281.9,612.1" fill="#1010e0"/>
<polygon points="289.9,608.8 295.4,609.9 291.4,614.0 290.0,613.6" fill="#1010e0"/>
<polygon points="300.5,531.9 323.5,522.3 323.1,605.3 300.8,616.5" fill="#1890e0"/>
<polygon points="300.5,531.9 303.1,530.8 303.4,615.2 300.8,616.5" fill="#20c070"/>
<polygon points="300.8,616.5 323.1,605.3 323.1,601.1 300.8,612.3" fill="#1080e0"/>
<polygon points="300.5,531.9 323.5,522.3 323.0,526.7 300.5,536.3" fill="#20a0e0"/>
<polygon points="303.1,535.2 319.9,528.2 319.5,602.9 303.4,611.0" fill="#20d040"/>
<polygon points="304.2,536.2 318.9,530.0 318.5,602.3 304.5,609.3" fill="#a0dc00"/>
<line x1="304.3" y1="556.6" x2="318.8" y2="550.3" stroke="#b4e820" stroke-width="1.1"/>
<line x1="304.3" y1="564.0" x2="318.7" y2="557.5" stroke="#b4e820" stroke-width="1.1"/>
<line x1="304.3" y1="571.3" x2="318.7" y2="564.7" stroke="#b4e820" stroke-width="1.1"/>
<polygon points="319.0,523.9 323.8,522.0 323.8,526.8 319.0,528.4" fill="#0000c0"/>
<ellipse cx="141.3" cy="488.2" rx="3.8" ry="1.6" fill="#20b0e0"/>
<polygon points="421.5,499.8 438.5,487.3 625.0,522.3 624.5,604.5 602.3,616.8 602.1,610.8 421.0,575.1" fill="#e40000"/>
<polygon points="421.5,499.8 438.5,487.3 625.0,522.3 602.1,531.9" fill="#e40000"/>
<polygon points="439.5,487.5 442.0,487.9 424.8,500.4 422.5,500.0" fill="#ec0c0c"/>
<polygon points="446.4,488.8 448.9,489.2 431.5,501.6 429.2,501.2" fill="#ec0c0c"/>
<polygon points="453.4,490.1 455.8,490.5 438.2,502.8 435.9,502.4" fill="#ec0c0c"/>
<polygon points="460.3,491.4 462.7,491.8 444.9,504.0 442.6,503.5" fill="#ec0c0c"/>
<polygon points="467.2,492.7 469.6,493.1 451.6,505.1 449.3,504.7" fill="#ec0c0c"/>
<polygon points="474.1,494.0 476.5,494.4 458.3,506.3 455.9,505.9" fill="#ec0c0c"/>
<polygon points="481.0,495.3 483.4,495.7 465.0,507.5 462.6,507.1" fill="#ec0c0c"/>
<polygon points="487.9,496.6 490.3,497.0 471.7,508.7 469.3,508.3" fill="#ec0c0c"/>
<polygon points="494.8,497.9 497.2,498.3 478.4,509.9 476.0,509.5" fill="#ec0c0c"/>
<polygon points="501.7,499.2 504.1,499.6 485.0,511.1 482.7,510.7" fill="#ec0c0c"/>
<polygon points="508.6,500.5 511.0,500.9 491.7,512.3 489.4,511.9" fill="#ec0c0c"/>
<polygon points="515.5,501.8 517.9,502.2 498.4,513.5 496.1,513.1" fill="#ec0c0c"/>
<polygon points="522.4,503.1 524.8,503.5 505.1,514.7 502.8,514.2" fill="#ec0c0c"/>
<polygon points="529.3,504.3 531.8,504.8 511.8,515.9 509.5,515.4" fill="#ec0c0c"/>
<polygon points="536.2,505.6 538.7,506.1 518.5,517.0 516.1,516.6" fill="#ec0c0c"/>
<polygon points="543.1,506.9 545.6,507.4 525.2,518.2 522.8,517.8" fill="#ec0c0c"/>
<polygon points="550.1,508.2 552.5,508.7 531.9,519.4 529.5,519.0" fill="#ec0c0c"/>
<polygon points="557.0,509.5 559.4,510.0 538.6,520.6 536.2,520.2" fill="#ec0c0c"/>
<polygon points="563.9,510.8 566.3,511.3 545.2,521.8 542.9,521.4" fill="#ec0c0c"/>
<polygon points="570.8,512.1 573.2,512.6 551.9,523.0 549.6,522.6" fill="#ec0c0c"/>
<polygon points="577.7,513.4 580.1,513.9 558.6,524.2 556.3,523.8" fill="#ec0c0c"/>
<polygon points="584.6,514.7 587.0,515.2 565.3,525.4 563.0,524.9" fill="#ec0c0c"/>
<polygon points="591.5,516.0 593.9,516.5 572.0,526.5 569.7,526.1" fill="#ec0c0c"/>
<polygon points="598.4,517.3 600.8,517.8 578.7,527.7 576.3,527.3" fill="#ec0c0c"/>
<polygon points="605.3,518.6 607.7,519.1 585.4,528.9 583.0,528.5" fill="#ec0c0c"/>
<polygon points="612.2,519.9 614.6,520.4 592.1,530.1 589.7,529.7" fill="#ec0c0c"/>
<polygon points="619.1,521.2 621.5,521.7 598.8,531.3 596.4,530.9" fill="#ec0c0c"/>
<line x1="438.5" y1="487.6" x2="625.0" y2="522.6" stroke="#c00000" stroke-width="0.8"/>
<polygon points="421.5,499.8 438.5,487.3 450.5,489.6 439.5,503.2" fill="#e40000"/>
<polygon points="421.5,499.8 439.0,502.9 439.0,565.0 421.0,575.1" fill="#e00000"/>
<rect x="422.1" y="500.4" width="1.6" height="74.1" fill="#c40000"/>
<rect x="426.3" y="501.2" width="1.6" height="71.1" fill="#c40000"/>
<rect x="430.5" y="501.9" width="1.6" height="68.0" fill="#c40000"/>
<rect x="434.7" y="502.6" width="1.6" height="65.0" fill="#c40000"/>
<polygon points="439.0,502.9 602.1,531.9 602.1,593.6 439.0,564.9" fill="#c80000"/>
<polygon points="449.7,504.8 456.5,506.0 456.5,568.0 449.7,566.8" fill="url(#g6)"/>
<polygon points="458.2,506.3 465.0,507.5 465.0,569.5 458.2,568.3" fill="url(#g6)"/>
<polygon points="466.7,507.8 473.5,509.0 473.5,571.0 466.7,569.8" fill="url(#g6)"/>
<polygon points="475.2,509.3 482.0,510.6 482.0,572.5 475.2,571.3" fill="url(#g6)"/>
<polygon points="483.7,510.9 490.5,512.1 490.5,574.0 483.7,572.8" fill="url(#g6)"/>
<polygon points="492.2,512.4 499.0,513.6 499.0,575.5 492.2,574.3" fill="url(#g6)"/>
<polygon points="500.7,513.9 507.5,515.1 507.5,577.0 500.7,575.8" fill="url(#g6)"/>
<polygon points="509.2,515.4 516.0,516.6 516.0,578.5 509.2,577.3" fill="url(#g6)"/>
<polygon points="517.7,516.9 524.5,518.1 524.5,580.0 517.7,578.8" fill="url(#g6)"/>
<polygon points="526.2,518.4 533.0,519.6 533.0,581.4 526.2,580.2" fill="url(#g6)"/>
<polygon points="534.7,519.9 541.5,521.1 541.5,582.9 534.7,581.7" fill="url(#g6)"/>
<polygon points="543.2,521.4 550.0,522.6 550.0,584.4 543.2,583.2" fill="url(#g6)"/>
<polygon points="551.7,522.9 558.5,524.2 558.5,585.9 551.7,584.7" fill="url(#g6)"/>
<polygon points="560.2,524.5 567.0,525.7 567.0,587.4 560.2,586.2" fill="url(#g6)"/>
<polygon points="568.7,526.0 575.5,527.2 575.5,588.9 568.7,587.7" fill="url(#g6)"/>
<polygon points="577.2,527.5 584.0,528.7 584.0,590.4 577.2,589.2" fill="url(#g6)"/>
<polygon points="585.7,529.0 592.5,530.2 592.5,591.9 585.7,590.7" fill="url(#g6)"/>
<polygon points="594.2,530.5 601.0,531.7 601.0,593.4 594.2,592.2" fill="url(#g6)"/>
<polygon points="438.3,502.8 440.1,503.1 440.1,565.1 438.3,564.8" fill="#f0c000"/>
<polygon points="440.1,503.1 445.8,504.1 445.8,566.1 440.1,565.1" fill="#b08000"/>
<polygon points="421.0,575.1 439.5,565.0 602.1,593.6 602.1,610.8" fill="#f0a800"/>
<g clip-path="url(#fc6)" stroke="#e8e400" stroke-width="3.0"><line x1="455.7" y1="567.9" x2="436.9" y2="578.2"/><line x1="465.7" y1="569.7" x2="446.7" y2="580.2"/><line x1="476.1" y1="571.5" x2="456.9" y2="582.2"/><line x1="486.4" y1="573.4" x2="467.0" y2="584.2"/><line x1="496.3" y1="575.2" x2="476.8" y2="586.1"/><line x1="506.7" y1="577.0" x2="487.0" y2="588.1"/><line x1="516.3" y1="578.7" x2="496.4" y2="590.0"/><line x1="525.6" y1="580.4" x2="505.5" y2="591.8"/><line x1="534.6" y1="582.0" x2="514.3" y2="593.5"/><line x1="543.5" y1="583.6" x2="523.1" y2="595.2"/><line x1="552.0" y1="585.1" x2="531.4" y2="596.9"/><line x1="560.7" y1="586.6" x2="539.9" y2="598.5"/><line x1="572.7" y1="588.8" x2="551.7" y2="600.9"/><line x1="581.1" y1="590.3" x2="560.0" y2="602.5"/><line x1="590.4" y1="591.9" x2="569.1" y2="604.3"/><line x1="598.9" y1="593.4" x2="577.4" y2="605.9"/><line x1="606.7" y1="594.8" x2="585.1" y2="607.4"/><line x1="615.0" y1="596.3" x2="593.2" y2="609.0"/></g>
<polyline points="421.0,575.1 439.5,565.0 602.1,593.6" fill="none" stroke="#f0c000" stroke-width="0.8"/>
<polygon points="420.2,574.4 425.7,575.5 421.7,579.6 420.3,579.2" fill="#1010e0"/>
<polygon points="435.1,577.3 440.6,578.4 436.6,582.5 435.2,582.1" fill="#1010e0"/>
<polygon points="444.9,579.3 450.4,580.4 446.4,584.5 445.0,584.1" fill="#1010e0"/>
<polygon points="455.1,581.3 460.6,582.4 456.6,586.5 455.2,586.1" fill="#1010e0"/>
<polygon points="465.2,583.3 470.7,584.4 466.7,588.5 465.3,588.1" fill="#1010e0"/>
<polygon points="475.0,585.2 480.5,586.3 476.5,590.4 475.1,590.0" fill="#1010e0"/>
<polygon points="485.2,587.2 490.7,588.3 486.7,592.4 485.3,592.0" fill="#1010e0"/>
<polygon points="494.6,589.1 500.1,590.2 496.1,594.3 494.7,593.9" fill="#1010e0"/>
<polygon points="503.7,590.9 509.2,592.0 505.2,596.1 503.8,595.7" fill="#1010e0"/>
<polygon points="512.5,592.6 518.0,593.7 514.0,597.8 512.6,597.4" fill="#1010e0"/>
<polygon points="521.3,594.3 526.8,595.4 522.8,599.5 521.4,599.1" fill="#1010e0"/>
<polygon points="529.6,596.0 535.1,597.1 531.1,601.2 529.7,600.8" fill="#1010e0"/>
<polygon points="538.1,597.6 543.6,598.7 539.6,602.8 538.2,602.4" fill="#1010e0"/>
<polygon points="549.9,600.0 555.4,601.1 551.4,605.2 550.0,604.8" fill="#1010e0"/>
<polygon points="558.2,601.6 563.7,602.7 559.7,606.8 558.3,606.4" fill="#1010e0"/>
<polygon points="567.3,603.4 572.8,604.5 568.8,608.6 567.4,608.2" fill="#1010e0"/>
<polygon points="575.6,605.0 581.1,606.1 577.1,610.2 575.7,609.8" fill="#1010e0"/>
<polygon points="583.3,606.6 588.8,607.7 584.8,611.8 583.4,611.4" fill="#1010e0"/>
<polygon points="591.4,608.1 596.9,609.2 592.9,613.3 591.5,612.9" fill="#1010e0"/>
<polygon points="602.1,531.9 625.0,522.3 624.5,604.5 602.3,616.8" fill="#30c090"/>
<polygon points="602.1,531.9 605.3,530.6 605.5,615.0 602.3,616.8" fill="#70d040"/>
<polygon points="602.3,616.8 624.5,604.5 624.5,600.5 602.3,612.8" fill="#20b0e0"/>
<polygon points="602.1,531.9 625.0,522.3 624.5,526.7 602.1,536.3" fill="#20d0e0"/>
<polygon points="605.3,535.0 620.8,528.5 620.3,602.8 605.5,611.0" fill="#f0a000"/>
<polygon points="606.4,535.9 619.8,530.3 619.3,602.3 606.6,609.3" fill="#e00000"/>
<line x1="606.5" y1="556.5" x2="619.7" y2="550.4" stroke="#e60808" stroke-width="1.1"/>
<line x1="606.5" y1="563.8" x2="619.6" y2="557.6" stroke="#e60808" stroke-width="1.1"/>
<line x1="606.5" y1="571.1" x2="619.6" y2="564.8" stroke="#e60808" stroke-width="1.1"/>
<polygon points="620.5,523.9 625.3,522.0 625.3,526.8 620.5,528.4" fill="#1060d0"/>
<ellipse cx="442.8" cy="488.2" rx="3.8" ry="1.6" fill="#20c0c0"/>
<polygon points="120.0,696.3 137.0,683.8 323.5,718.8 322.8,802.5 300.8,813.4 300.5,808.0 119.6,773.1" fill="#f0a800"/>
<polygon points="120.0,696.3 137.0,683.8 323.5,718.8 300.5,729.8" fill="#f0a800"/>
<polygon points="138.0,684.0 140.5,684.4 123.3,696.9 121.0,696.5" fill="#f4b010"/>
<polygon points="144.9,685.3 147.4,685.7 130.0,698.2 127.7,697.7" fill="#f4b010"/>
<polygon points="151.9,686.6 154.3,687.0 136.7,699.4 134.4,699.0" fill="#f4b010"/>
<polygon points="158.8,687.9 161.2,688.3 143.4,700.6 141.1,700.2" fill="#f4b010"/>
<polygon points="165.7,689.2 168.1,689.6 150.1,701.9 147.7,701.4" fill="#f4b010"/>
<polygon points="172.6,690.5 175.0,690.9 156.8,703.1 154.4,702.7" fill="#f4b010"/>
<polygon points="179.5,691.8 181.9,692.2 163.5,704.4 161.1,703.9" fill="#f4b010"/>
<polygon points="186.4,693.1 188.8,693.5 170.1,705.6 167.8,705.2" fill="#f4b010"/>
<polygon points="193.3,694.4 195.7,694.8 176.8,706.8 174.5,706.4" fill="#f4b010"/>
<polygon points="200.2,695.7 202.6,696.1 183.5,708.1 181.2,707.7" fill="#f4b010"/>
<polygon points="207.1,697.0 209.5,697.4 190.2,709.3 187.9,708.9" fill="#f4b010"/>
<polygon points="214.0,698.3 216.4,698.7 196.9,710.6 194.5,710.1" fill="#f4b010"/>
<polygon points="220.9,699.5 223.3,700.0 203.6,711.8 201.2,711.4" fill="#f4b010"/>
<polygon points="227.8,700.8 230.2,701.3 210.2,713.0 207.9,712.6" fill="#f4b010"/>
<polygon points="234.7,702.1 237.2,702.6 216.9,714.3 214.6,713.9" fill="#f4b010"/>
<polygon points="241.6,703.4 244.1,703.9 223.6,715.5 221.3,715.1" fill="#f4b010"/>
<polygon points="248.6,704.7 251.0,705.2 230.3,716.8 228.0,716.3" fill="#f4b010"/>
<polygon points="255.5,706.0 257.9,706.5 237.0,718.0 234.7,717.6" fill="#f4b010"/>
<polygon points="262.4,707.3 264.8,707.8 243.7,719.3 241.3,718.8" fill="#f4b010"/>
<polygon points="269.3,708.6 271.7,709.1 250.4,720.5 248.0,720.1" fill="#f4b010"/>
<polygon points="276.2,709.9 278.6,710.4 257.0,721.7 254.7,721.3" fill="#f4b010"/>
<polygon points="283.1,711.2 285.5,711.7 263.7,723.0 261.4,722.5" fill="#f4b010"/>
<polygon points="290.0,712.5 292.4,713.0 270.4,724.2 268.1,723.8" fill="#f4b010"/>
<polygon points="296.9,713.8 299.3,714.3 277.1,725.5 274.8,725.0" fill="#f4b010"/>
<polygon points="303.8,715.1 306.2,715.6 283.8,726.7 281.4,726.3" fill="#f4b010"/>
<polygon points="310.7,716.4 313.1,716.9 290.5,727.9 288.1,727.5" fill="#f4b010"/>
<polygon points="317.6,717.7 320.0,718.2 297.2,729.2 294.8,728.7" fill="#f4b010"/>
<line x1="137.0" y1="684.1" x2="323.5" y2="719.1" stroke="#d09000" stroke-width="0.8"/>
<polygon points="120.0,696.3 137.0,683.8 149.0,686.1 138.0,699.8" fill="#f0a800"/>
<polygon points="120.0,696.3 137.5,699.5 137.5,762.6 119.6,773.1" fill="#f0aa00"/>
<rect x="120.6" y="696.9" width="1.6" height="75.6" fill="#d09000"/>
<rect x="124.8" y="697.7" width="1.6" height="72.5" fill="#d09000"/>
<rect x="129.0" y="698.5" width="1.6" height="69.4" fill="#d09000"/>
<rect x="133.2" y="699.2" width="1.6" height="66.3" fill="#d09000"/>
<polygon points="137.5,699.5 300.5,729.8 300.5,790.8 137.5,762.4" fill="#cc900c"/>
<polygon points="148.2,701.5 155.0,702.8 155.0,765.5 148.2,764.3" fill="url(#g7)"/>
<polygon points="156.7,703.1 163.5,704.4 163.5,767.0 156.7,765.8" fill="url(#g7)"/>
<polygon points="165.2,704.7 172.0,706.0 172.0,768.4 165.2,767.3" fill="url(#g7)"/>
<polygon points="173.7,706.3 180.5,707.5 180.5,769.9 173.7,768.7" fill="url(#g7)"/>
<polygon points="182.2,707.8 189.0,709.1 189.0,771.4 182.2,770.2" fill="url(#g7)"/>
<polygon points="190.7,709.4 197.5,710.7 197.5,772.9 190.7,771.7" fill="url(#g7)"/>
<polygon points="199.2,711.0 206.0,712.3 206.0,774.4 199.2,773.2" fill="url(#g7)"/>
<polygon points="207.7,712.6 214.5,713.8 214.5,775.8 207.7,774.7" fill="url(#g7)"/>
<polygon points="216.2,714.2 223.0,715.4 223.0,777.3 216.2,776.1" fill="url(#g7)"/>
<polygon points="224.7,715.7 231.5,717.0 231.5,778.8 224.7,777.6" fill="url(#g7)"/>
<polygon points="233.2,717.3 240.0,718.6 240.0,780.3 233.2,779.1" fill="url(#g7)"/>
<polygon points="241.7,718.9 248.5,720.1 248.5,781.8 241.7,780.6" fill="url(#g7)"/>
<polygon points="250.2,720.5 257.0,721.7 257.0,783.2 250.2,782.0" fill="url(#g7)"/>
<polygon points="258.7,722.0 265.5,723.3 265.5,784.7 258.7,783.5" fill="url(#g7)"/>
<polygon points="267.2,723.6 274.0,724.9 274.0,786.2 267.2,785.0" fill="url(#g7)"/>
<polygon points="275.7,725.2 282.5,726.5 282.5,787.7 275.7,786.5" fill="url(#g7)"/>
<polygon points="284.2,726.8 291.0,728.0 291.0,789.1 284.2,788.0" fill="url(#g7)"/>
<polygon points="292.7,728.4 299.5,729.6 299.5,790.6 292.7,789.4" fill="url(#g7)"/>
<polygon points="136.8,699.4 138.6,699.8 138.6,762.6 136.8,762.3" fill="#f0b000"/>
<polygon points="138.6,699.8 144.3,700.8 144.3,763.6 138.6,762.6" fill="#e09a00"/>
<polygon points="119.6,773.1 138.4,762.6 300.5,790.8 300.5,808.0" fill="#e6ee00"/>
<g clip-path="url(#fc7)" stroke="#88e040" stroke-width="1.3"><line x1="154.5" y1="765.5" x2="135.4" y2="776.1"/><line x1="164.4" y1="767.2" x2="145.2" y2="778.0"/><line x1="174.8" y1="769.0" x2="155.4" y2="780.0"/><line x1="185.1" y1="770.8" x2="165.5" y2="782.0"/><line x1="195.1" y1="772.6" x2="175.3" y2="783.8"/><line x1="205.5" y1="774.4" x2="185.5" y2="785.8"/><line x1="215.0" y1="776.1" x2="194.9" y2="787.6"/><line x1="224.3" y1="777.7" x2="204.0" y2="789.4"/><line x1="233.3" y1="779.3" x2="212.8" y2="791.1"/><line x1="242.2" y1="780.9" x2="221.6" y2="792.8"/><line x1="250.7" y1="782.4" x2="229.9" y2="794.4"/><line x1="259.3" y1="783.9" x2="238.4" y2="796.0"/><line x1="271.4" y1="786.0" x2="250.2" y2="798.3"/><line x1="279.8" y1="787.5" x2="258.5" y2="799.9"/><line x1="289.1" y1="789.1" x2="267.6" y2="801.7"/><line x1="297.5" y1="790.6" x2="275.9" y2="803.3"/><line x1="305.4" y1="792.0" x2="283.6" y2="804.7"/><line x1="313.6" y1="793.5" x2="291.7" y2="806.3"/></g>
<polyline points="119.6,773.1 138.4,762.6 300.5,790.8" fill="none" stroke="#50d040" stroke-width="0.8"/>
<polygon points="118.7,772.4 124.2,773.5 120.2,777.6 118.8,777.2" fill="#1898e0"/>
<polygon points="133.6,775.3 139.1,776.4 135.1,780.5 133.7,780.1" fill="#1898e0"/>
<polygon points="143.4,777.1 148.9,778.2 144.9,782.3 143.5,781.9" fill="#1898e0"/>
<polygon points="153.6,779.1 159.1,780.2 155.1,784.3 153.7,783.9" fill="#1898e0"/>
<polygon points="163.7,781.1 169.2,782.2 165.2,786.3 163.8,785.9" fill="#1898e0"/>
<polygon points="173.5,783.0 179.0,784.1 175.0,788.2 173.6,787.8" fill="#1898e0"/>
<polygon points="183.7,784.9 189.2,786.0 185.2,790.1 183.8,789.7" fill="#1898e0"/>
<polygon points="193.1,786.7 198.6,787.8 194.6,791.9 193.2,791.5" fill="#1898e0"/>
<polygon points="202.2,788.5 207.7,789.6 203.7,793.7 202.3,793.3" fill="#1898e0"/>
<polygon points="211.0,790.2 216.5,791.3 212.5,795.4 211.1,795.0" fill="#1898e0"/>
<polygon points="219.8,791.9 225.3,793.0 221.3,797.1 219.9,796.7" fill="#1898e0"/>
<polygon points="228.1,793.5 233.6,794.6 229.6,798.7 228.2,798.3" fill="#1898e0"/>
<polygon points="236.6,795.1 242.1,796.2 238.1,800.3 236.7,799.9" fill="#1898e0"/>
<polygon points="248.4,797.4 253.9,798.5 249.9,802.6 248.5,802.2" fill="#1898e0"/>
<polygon points="256.7,799.0 262.2,800.1 258.2,804.2 256.8,803.8" fill="#1898e0"/>
<polygon points="265.8,800.8 271.3,801.9 267.3,806.0 265.9,805.6" fill="#1898e0"/>
<polygon points="274.1,802.4 279.6,803.5 275.6,807.6 274.2,807.2" fill="#1898e0"/>
<polygon points="281.8,803.9 287.3,805.0 283.3,809.1 281.9,808.7" fill="#1898e0"/>
<polygon points="289.9,805.4 295.4,806.5 291.4,810.6 290.0,810.2" fill="#1898e0"/>
<polygon points="300.5,729.8 323.5,718.8 322.8,802.5 300.8,813.4" fill="#30c030"/>
<polygon points="300.5,729.8 302.9,728.7 303.2,812.2 300.8,813.4" fill="#e8d000"/>
<polygon points="300.8,813.4 322.8,802.5 322.8,798.9 300.8,809.8" fill="#20d0a0"/>
<polygon points="300.5,729.8 323.5,718.8 323.0,722.6 300.5,733.6" fill="#a0e020"/>
<polygon points="302.9,732.5 320.7,723.9 320.0,800.3 303.2,808.6" fill="#e8a000"/>
<line x1="303.0" y1="753.8" x2="320.5" y2="745.3" stroke="#f0ac10" stroke-width="1.1"/>
<line x1="303.0" y1="761.4" x2="320.4" y2="753.0" stroke="#f0ac10" stroke-width="1.1"/>
<line x1="303.0" y1="769.0" x2="320.4" y2="760.6" stroke="#f0ac10" stroke-width="1.1"/>
<line x1="304.2" y1="803.3" x2="319.0" y2="794.9" stroke="#f06010" stroke-width="3.2"/>
<line x1="304.2" y1="803.3" x2="319.0" y2="794.9" stroke="#e01800" stroke-width="1.6"/>
<polygon points="319.0,720.7 323.8,718.5 323.8,723.3 319.0,725.2" fill="#20c040"/>
<g transform="translate(0.0,591.0)"><ellipse cx="301.3" cy="140.2" rx="1.4" ry="1.8" fill="#e02000"/></g>
<ellipse cx="141.3" cy="684.7" rx="3.8" ry="1.6" fill="#40d040"/>
<polygon points="421.5,696.3 438.5,683.8 625.0,718.8 624.5,801.9 602.1,813.4 601.8,808.3 421.0,772.6" fill="#e20000"/>
<polygon points="421.5,696.3 438.5,683.8 625.0,718.8 601.8,729.1" fill="#e20000"/>
<polygon points="439.5,684.0 442.0,684.4 424.8,696.9 422.5,696.5" fill="#ea0a0a"/>
<polygon points="446.4,685.3 448.9,685.7 431.5,698.1 429.2,697.7" fill="#ea0a0a"/>
<polygon points="453.4,686.6 455.8,687.0 438.2,699.3 435.9,698.9" fill="#ea0a0a"/>
<polygon points="460.3,687.9 462.7,688.3 444.9,700.6 442.5,700.1" fill="#ea0a0a"/>
<polygon points="467.2,689.2 469.6,689.6 451.6,701.8 449.2,701.3" fill="#ea0a0a"/>
<polygon points="474.1,690.5 476.5,690.9 458.2,703.0 455.9,702.6" fill="#ea0a0a"/>
<polygon points="481.0,691.8 483.4,692.2 464.9,704.2 462.6,703.8" fill="#ea0a0a"/>
<polygon points="487.9,693.1 490.3,693.5 471.6,705.4 469.2,705.0" fill="#ea0a0a"/>
<polygon points="494.8,694.4 497.2,694.8 478.3,706.6 475.9,706.2" fill="#ea0a0a"/>
<polygon points="501.7,695.7 504.1,696.1 484.9,707.8 482.6,707.4" fill="#ea0a0a"/>
<polygon points="508.6,697.0 511.0,697.4 491.6,709.1 489.3,708.6" fill="#ea0a0a"/>
<polygon points="515.5,698.3 517.9,698.7 498.3,710.3 496.0,709.8" fill="#ea0a0a"/>
<polygon points="522.4,699.5 524.8,700.0 505.0,711.5 502.6,711.1" fill="#ea0a0a"/>
<polygon points="529.3,700.8 531.8,701.3 511.6,712.7 509.3,712.3" fill="#ea0a0a"/>
<polygon points="536.2,702.1 538.7,702.6 518.3,713.9 516.0,713.5" fill="#ea0a0a"/>
<polygon points="543.1,703.4 545.6,703.9 525.0,715.1 522.7,714.7" fill="#ea0a0a"/>
<polygon points="550.1,704.7 552.5,705.2 531.7,716.3 529.3,715.9" fill="#ea0a0a"/>
<polygon points="557.0,706.0 559.4,706.5 538.4,717.6 536.0,717.1" fill="#ea0a0a"/>
<polygon points="563.9,707.3 566.3,707.8 545.0,718.8 542.7,718.3" fill="#ea0a0a"/>
<polygon points="570.8,708.6 573.2,709.1 551.7,720.0 549.4,719.6" fill="#ea0a0a"/>
<polygon points="577.7,709.9 580.1,710.4 558.4,721.2 556.1,720.8" fill="#ea0a0a"/>
<polygon points="584.6,711.2 587.0,711.7 565.1,722.4 562.7,722.0" fill="#ea0a0a"/>
<polygon points="591.5,712.5 593.9,713.0 571.8,723.6 569.4,723.2" fill="#ea0a0a"/>
<polygon points="598.4,713.8 600.8,714.3 578.4,724.8 576.1,724.4" fill="#ea0a0a"/>
<polygon points="605.3,715.1 607.7,715.6 585.1,726.1 582.8,725.6" fill="#ea0a0a"/>
<polygon points="612.2,716.4 614.6,716.9 591.8,727.3 589.4,726.9" fill="#ea0a0a"/>
<polygon points="619.1,717.7 621.5,718.2 598.5,728.5 596.1,728.1" fill="#ea0a0a"/>
<line x1="438.5" y1="684.1" x2="625.0" y2="719.1" stroke="#c00000" stroke-width="0.8"/>
<polygon points="421.5,696.3 438.5,683.8 450.5,686.1 439.5,699.8" fill="#e20000"/>
<polygon points="421.5,696.3 439.0,699.5 439.0,761.6 421.0,772.6" fill="#e00000"/>
<rect x="422.1" y="696.9" width="1.6" height="75.0" fill="#c40000"/>
<rect x="426.3" y="697.7" width="1.6" height="71.8" fill="#c40000"/>
<rect x="430.5" y="698.4" width="1.6" height="68.6" fill="#c40000"/>
<rect x="434.7" y="699.2" width="1.6" height="65.3" fill="#c40000"/>
<polygon points="439.0,699.5 601.8,729.1 601.8,791.4 439.0,761.5" fill="#c80000"/>
<polygon points="449.7,701.4 456.5,702.7 456.5,764.7 449.7,763.4" fill="url(#g8)"/>
<polygon points="458.2,703.0 465.0,704.2 465.0,766.3 458.2,765.0" fill="url(#g8)"/>
<polygon points="466.7,704.5 473.5,705.8 473.5,767.8 466.7,766.6" fill="url(#g8)"/>
<polygon points="475.2,706.1 482.0,707.3 482.0,769.4 475.2,768.1" fill="url(#g8)"/>
<polygon points="483.7,707.6 490.5,708.9 490.5,770.9 483.7,769.7" fill="url(#g8)"/>
<polygon points="492.2,709.2 499.0,710.4 499.0,772.5 492.2,771.3" fill="url(#g8)"/>
<polygon points="500.7,710.7 507.5,711.9 507.5,774.1 500.7,772.8" fill="url(#g8)"/>
<polygon points="509.2,712.3 516.0,713.5 516.0,775.6 509.2,774.4" fill="url(#g8)"/>
<polygon points="517.7,713.8 524.5,715.0 524.5,777.2 517.7,775.9" fill="url(#g8)"/>
<polygon points="526.2,715.3 533.0,716.6 533.0,778.8 526.2,777.5" fill="url(#g8)"/>
<polygon points="534.7,716.9 541.5,718.1 541.5,780.3 534.7,779.1" fill="url(#g8)"/>
<polygon points="543.2,718.4 550.0,719.7 550.0,781.9 543.2,780.6" fill="url(#g8)"/>
<polygon points="551.7,720.0 558.5,721.2 558.5,783.4 551.7,782.2" fill="url(#g8)"/>
<polygon points="560.2,721.5 567.0,722.8 567.0,785.0 560.2,783.8" fill="url(#g8)"/>
<polygon points="568.7,723.1 575.5,724.3 575.5,786.6 568.7,785.3" fill="url(#g8)"/>
<polygon points="577.2,724.6 584.0,725.9 584.0,788.1 577.2,786.9" fill="url(#g8)"/>
<polygon points="585.7,726.2 592.5,727.4 592.5,789.7 585.7,788.4" fill="url(#g8)"/>
<polygon points="594.2,727.7 601.0,729.0 601.0,791.3 594.2,790.0" fill="url(#g8)"/>
<polygon points="438.3,699.4 440.1,699.7 440.1,761.7 438.3,761.3" fill="#e00000"/>
<polygon points="440.1,699.7 445.8,700.7 445.8,762.7 440.1,761.7" fill="#d00000"/>
<polygon points="421.0,772.6 439.7,761.6 601.8,791.4 601.8,808.3" fill="#f0a800"/>
<g clip-path="url(#fc8)" stroke="#e8e400" stroke-width="3.0"><line x1="455.9" y1="764.6" x2="436.9" y2="775.7"/><line x1="465.9" y1="766.5" x2="446.7" y2="777.7"/><line x1="476.3" y1="768.4" x2="456.9" y2="779.7"/><line x1="486.6" y1="770.3" x2="467.0" y2="781.7"/><line x1="496.6" y1="772.2" x2="476.8" y2="783.6"/><line x1="507.0" y1="774.1" x2="487.0" y2="785.6"/><line x1="516.6" y1="775.9" x2="496.4" y2="787.5"/><line x1="525.8" y1="777.6" x2="505.5" y2="789.3"/><line x1="534.8" y1="779.2" x2="514.3" y2="791.0"/><line x1="543.8" y1="780.9" x2="523.1" y2="792.8"/><line x1="552.2" y1="782.5" x2="531.4" y2="794.4"/><line x1="560.9" y1="784.1" x2="539.9" y2="796.1"/><line x1="572.9" y1="786.3" x2="551.7" y2="798.4"/><line x1="581.4" y1="787.9" x2="560.0" y2="800.0"/><line x1="590.7" y1="789.6" x2="569.1" y2="801.8"/><line x1="599.2" y1="791.2" x2="577.4" y2="803.5"/><line x1="607.0" y1="792.6" x2="585.1" y2="805.0"/><line x1="615.3" y1="794.1" x2="593.2" y2="806.6"/></g>
<polyline points="421.0,772.6 439.7,761.6 601.8,791.4" fill="none" stroke="#f0c000" stroke-width="0.8"/>
<polygon points="420.2,771.9 425.7,773.0 421.7,777.1 420.3,776.7" fill="#20c8e0"/>
<polygon points="435.1,774.8 440.6,775.9 436.6,780.0 435.2,779.6" fill="#20c8e0"/>
<polygon points="444.9,776.8 450.4,777.9 446.4,782.0 445.0,781.6" fill="#20c8e0"/>
<polygon points="455.1,778.8 460.6,779.9 456.6,784.0 455.2,783.6" fill="#20c8e0"/>
<polygon points="465.2,780.8 470.7,781.9 466.7,786.0 465.3,785.6" fill="#20c8e0"/>
<polygon points="475.0,782.7 480.5,783.8 476.5,787.9 475.1,787.5" fill="#20c8e0"/>
<polygon points="485.2,784.7 490.7,785.8 486.7,789.9 485.3,789.5" fill="#20c8e0"/>
<polygon points="494.6,786.6 500.1,787.7 496.1,791.8 494.7,791.4" fill="#20c8e0"/>
<polygon points="503.7,788.4 509.2,789.5 505.2,793.6 503.8,793.2" fill="#20c8e0"/>
<polygon points="512.5,790.1 518.0,791.2 514.0,795.3 512.6,794.9" fill="#20c8e0"/>
<polygon points="521.3,791.9 526.8,793.0 522.8,797.1 521.4,796.7" fill="#20c8e0"/>
<polygon points="529.6,793.5 535.1,794.6 531.1,798.7 529.7,798.3" fill="#20c8e0"/>
<polygon points="538.1,795.2 543.6,796.3 539.6,800.4 538.2,800.0" fill="#20c8e0"/>
<polygon points="549.9,797.5 555.4,798.6 551.4,802.7 550.0,802.3" fill="#20c8e0"/>
<polygon points="558.2,799.2 563.7,800.3 559.7,804.4 558.3,804.0" fill="#20c8e0"/>
<polygon points="567.3,800.9 572.8,802.0 568.8,806.1 567.4,805.7" fill="#20c8e0"/>
<polygon points="575.6,802.6 581.1,803.7 577.1,807.8 575.7,807.4" fill="#20c8e0"/>
<polygon points="583.3,804.1 588.8,805.2 584.8,809.3 583.4,808.9" fill="#20c8e0"/>
<polygon points="591.4,805.7 596.9,806.8 592.9,810.9 591.5,810.5" fill="#20c8e0"/>
<polygon points="601.8,729.1 625.0,718.8 624.5,801.9 602.1,813.4" fill="#40c040"/>
<polygon points="601.8,729.1 603.8,728.2 604.1,812.4 602.1,813.4" fill="#f08020"/>
<polygon points="602.1,813.4 624.5,801.9 624.5,798.1 602.1,809.6" fill="#40d040"/>
<polygon points="601.8,729.1 625.0,718.8 624.5,723.0 601.8,733.3" fill="#e8e800"/>
<polygon points="603.8,732.4 621.0,724.8 620.5,800.2 604.1,808.6" fill="#e00000"/>
<line x1="603.9" y1="753.7" x2="620.9" y2="745.9" stroke="#e60808" stroke-width="1.1"/>
<line x1="603.9" y1="761.4" x2="620.8" y2="753.4" stroke="#e60808" stroke-width="1.1"/>
<line x1="603.9" y1="769.0" x2="620.8" y2="761.0" stroke="#e60808" stroke-width="1.1"/>
<polygon points="620.5,720.5 625.3,718.5 625.3,723.3 620.5,725.0" fill="#20c020"/>
<ellipse cx="442.8" cy="684.7" rx="3.8" ry="1.6" fill="#e0e000"/>
<path d="M28.2 67.4 L29.60 69.30 L31.00 67.40 L32.40 69.30 L33.80 67.40 L35.20 69.30 L36.60 67.40 L38.00 69.30 L39.40 67.40 L40.80 69.30 L42.20 67.40 L43.60 69.30 L45.00 67.40 L46.40 69.30 L47.80 67.40 L49.20 69.30 L50.60 67.40 L52.00 69.30 L53.40 67.40 L54.80 69.30 L56.20 67.40 L57.60 69.30 L59.00 67.40 L60.40 69.30 L61.80 67.40 L63.20 69.30 L64.60 67.40" fill="none" stroke="#dc2828" stroke-width="0.95" stroke-linejoin="round"/>
<path d="M445.2 67.4 L446.60 69.30 L448.00 67.40 L449.40 69.30 L450.80 67.40 L452.20 69.30 L453.60 67.40 L455.00 69.30 L456.40 67.40 L457.80 69.30 L459.20 67.40 L460.60 69.30 L462.00 67.40 L463.40 69.30 L464.80 67.40 L466.20 69.30 L467.60 67.40 L469.00 69.30 L470.40 67.40 L471.80 69.30 L473.20 67.40 L474.60 69.30 L476.00 67.40 L477.40 69.30 L478.80 67.40 L480.20 69.30 L481.60 67.40" fill="none" stroke="#dc2828" stroke-width="0.95" stroke-linejoin="round"/>
<path d="M28.2 264.1 L29.60 266.00 L31.00 264.10 L32.40 266.00 L33.80 264.10 L35.20 266.00 L36.60 264.10 L38.00 266.00 L39.40 264.10 L40.80 266.00 L42.20 264.10 L43.60 266.00 L45.00 264.10 L46.40 266.00 L47.80 264.10 L49.20 266.00 L50.60 264.10 L52.00 266.00 L53.40 264.10 L54.80 266.00 L56.20 264.10 L57.60 266.00 L59.00 264.10 L60.40 266.00 L61.80 264.10 L63.20 266.00 L64.60 264.10" fill="none" stroke="#dc2828" stroke-width="0.95" stroke-linejoin="round"/>
<path d="M445.2 264.1 L446.60 266.00 L448.00 264.10 L449.40 266.00 L450.80 264.10 L452.20 266.00 L453.60 264.10 L455.00 266.00 L456.40 264.10 L457.80 266.00 L459.20 264.10 L460.60 266.00 L462.00 264.10 L463.40 266.00 L464.80 264.10 L466.20 266.00 L467.60 264.10 L469.00 266.00 L470.40 264.10 L471.80 266.00 L473.20 264.10 L474.60 266.00 L476.00 264.10 L477.40 266.00 L478.80 264.10 L480.20 266.00 L481.60 264.10" fill="none" stroke="#dc2828" stroke-width="0.95" stroke-linejoin="round"/>
<path d="M28.2 460.4 L29.60 462.30 L31.00 460.40 L32.40 462.30 L33.80 460.40 L35.20 462.30 L36.60 460.40 L38.00 462.30 L39.40 460.40 L40.80 462.30 L42.20 460.40 L43.60 462.30 L45.00 460.40 L46.40 462.30 L47.80 460.40 L49.20 462.30 L50.60 460.40 L52.00 462.30 L53.40 460.40 L54.80 462.30 L56.20 460.40 L57.60 462.30 L59.00 460.40 L60.40 462.30 L61.80 460.40 L63.20 462.30 L64.60 460.40" fill="none" stroke="#dc2828" stroke-width="0.95" stroke-linejoin="round"/>
<path d="M445.2 460.4 L446.60 462.30 L448.00 460.40 L449.40 462.30 L450.80 460.40 L452.20 462.30 L453.60 460.40 L455.00 462.30 L456.40 460.40 L457.80 462.30 L459.20 460.40 L460.60 462.30 L462.00 460.40 L463.40 462.30 L464.80 460.40 L466.20 462.30 L467.60 460.40 L469.00 462.30 L470.40 460.40 L471.80 462.30 L473.20 460.40 L474.60 462.30 L476.00 460.40 L477.40 462.30 L478.80 460.40 L480.20 462.30 L481.60 460.40" fill="none" stroke="#dc2828" stroke-width="0.95" stroke-linejoin="round"/>
<path d="M28.2 657.4 L29.60 659.30 L31.00 657.40 L32.40 659.30 L33.80 657.40 L35.20 659.30 L36.60 657.40 L38.00 659.30 L39.40 657.40 L40.80 659.30 L42.20 657.40 L43.60 659.30 L45.00 657.40 L46.40 659.30 L47.80 657.40 L49.20 659.30 L50.60 657.40 L52.00 659.30 L53.40 657.40 L54.80 659.30 L56.20 657.40 L57.60 659.30 L59.00 657.40 L60.40 659.30 L61.80 657.40 L63.20 659.30 L64.60 657.40" fill="none" stroke="#dc2828" stroke-width="0.95" stroke-linejoin="round"/>
<path d="M445.2 657.4 L446.60 659.30 L448.00 657.40 L449.40 659.30 L450.80 657.40 L452.20 659.30 L453.60 657.40 L455.00 659.30 L456.40 657.40 L457.80 659.30 L459.20 657.40 L460.60 659.30 L462.00 657.40 L463.40 659.30 L464.80 657.40 L466.20 659.30 L467.60 657.40 L469.00 659.30 L470.40 657.40 L471.80 659.30 L473.20 657.40 L474.60 659.30 L476.00 657.40 L477.40 659.30 L478.80 657.40 L480.20 659.30 L481.60 657.40" fill="none" stroke="#dc2828" stroke-width="0.95" stroke-linejoin="round"/>
</svg>
<div class="lt" style="left:32.5px;top:93.7px">G: Transient Thermal - krzywa standardowa</div>
<div class="ls" style="left:32.5px;top:97.8px">TMD</div>
<div class="ls" style="left:32.5px;top:102.7px">Expression: (TTOP+TBOT)/2</div>
<div class="ls" style="left:32.5px;top:107.2px">Time: 60</div>
<div class="lb" style="left:32.5px;top:116.00px;height:5.04px;background:#ff0000"></div>
<div class="lb" style="left:32.5px;top:120.94px;height:5.04px;background:#ffa000"></div>
<div class="lb" style="left:32.5px;top:125.89px;height:5.04px;background:#ffff00"></div>
<div class="lb" style="left:32.5px;top:130.83px;height:5.04px;background:#b0ff00"></div>
<div class="lb" style="left:32.5px;top:135.78px;height:5.04px;background:#00e000"></div>
<div class="lb" style="left:32.5px;top:140.72px;height:5.04px;background:#00ffb0"></div>
<div class="lb" style="left:32.5px;top:145.67px;height:5.04px;background:#00ffff"></div>
<div class="lb" style="left:32.5px;top:150.61px;height:5.04px;background:#00a8ff"></div>
<div class="lb" style="left:32.5px;top:155.56px;height:5.04px;background:#0000ff"></div>
<div class="ll" style="left:40.0px;top:116.1px">900</div>
<div class="ll" style="left:40.0px;top:121.0px">800</div>
<div class="ll" style="left:40.0px;top:126.0px">700</div>
<div class="ll" style="left:40.0px;top:130.9px">600</div>
<div class="ll" style="left:40.0px;top:135.9px">500</div>
<div class="ll" style="left:40.0px;top:140.8px">400</div>
<div class="ll" style="left:40.0px;top:155.7px">100</div>
<div class="lm" style="left:40.0px;top:149.7px">230,44 Max</div>
<div class="lm" style="left:40.0px;top:160.6px">0 Min</div>
<div class="lt" style="left:333.4px;top:93.7px">A: Transient Thermal - krzywa węglowodorowa</div>
<div class="ls" style="left:333.4px;top:97.8px">TMD</div>
<div class="ls" style="left:333.4px;top:102.7px">Expression: (TTOP+TBOT)/2</div>
<div class="ls" style="left:333.4px;top:107.2px">Time: 60</div>
<div class="lb" style="left:333.4px;top:116.00px;height:5.04px;background:#ff0000"></div>
<div class="lb" style="left:333.4px;top:120.94px;height:5.04px;background:#ffa000"></div>
<div class="lb" style="left:333.4px;top:125.89px;height:5.04px;background:#ffff00"></div>
<div class="lb" style="left:333.4px;top:130.83px;height:5.04px;background:#b0ff00"></div>
<div class="lb" style="left:333.4px;top:135.78px;height:5.04px;background:#00e000"></div>
<div class="lb" style="left:333.4px;top:140.72px;height:5.04px;background:#00ffb0"></div>
<div class="lb" style="left:333.4px;top:145.67px;height:5.04px;background:#00ffff"></div>
<div class="lb" style="left:333.4px;top:150.61px;height:5.04px;background:#00a8ff"></div>
<div class="lb" style="left:333.4px;top:155.56px;height:5.04px;background:#0000ff"></div>
<div class="ll" style="left:340.9px;top:116.1px">900</div>
<div class="ll" style="left:340.9px;top:121.0px">800</div>
<div class="ll" style="left:340.9px;top:126.0px">700</div>
<div class="ll" style="left:340.9px;top:140.8px">400</div>
<div class="ll" style="left:340.9px;top:145.8px">300</div>
<div class="ll" style="left:340.9px;top:150.7px">200</div>
<div class="ll" style="left:340.9px;top:155.7px">100</div>
<div class="lm" style="left:340.9px;top:133.4px">561 Max</div>
<div class="lm" style="left:340.9px;top:160.6px">0 Min</div>
<div class="lt" style="left:32.5px;top:290.7px">G: Transient Thermal - krzywa standardowa</div>
<div class="ls" style="left:32.5px;top:294.8px">TMD 2</div>
<div class="ls" style="left:32.5px;top:299.7px">Expression: (TTOP+TBOT)/2</div>
<div class="ls" style="left:32.5px;top:304.2px">Time: 240</div>
<div class="lb" style="left:32.5px;top:313.00px;height:5.04px;background:#ff0000"></div>
<div class="lb" style="left:32.5px;top:317.94px;height:5.04px;background:#ffa000"></div>
<div class="lb" style="left:32.5px;top:322.89px;height:5.04px;background:#ffff00"></div>
<div class="lb" style="left:32.5px;top:327.83px;height:5.04px;background:#b0ff00"></div>
<div class="lb" style="left:32.5px;top:332.78px;height:5.04px;background:#00e000"></div>
<div class="lb" style="left:32.5px;top:337.72px;height:5.04px;background:#00ffb0"></div>
<div class="lb" style="left:32.5px;top:342.67px;height:5.04px;background:#00ffff"></div>
<div class="lb" style="left:32.5px;top:347.61px;height:5.04px;background:#00a8ff"></div>
<div class="lb" style="left:32.5px;top:352.56px;height:5.04px;background:#0000ff"></div>
<div class="ll" style="left:40.0px;top:313.1px">900</div>
<div class="ll" style="left:40.0px;top:318.0px">800</div>
<div class="ll" style="left:40.0px;top:323.0px">700</div>
<div class="ll" style="left:40.0px;top:327.9px">600</div>
<div class="ll" style="left:40.0px;top:332.9px">500</div>
<div class="ll" style="left:40.0px;top:347.7px">200</div>
<div class="ll" style="left:40.0px;top:352.7px">100</div>
<div class="lm" style="left:40.0px;top:338.8px">361,29 Max</div>
<div class="lm" style="left:40.0px;top:357.6px">0 Min</div>
<div class="lt" style="left:333.4px;top:290.7px">A: Transient Thermal - krzywa węglowodorowa</div>
<div class="ls" style="left:333.4px;top:294.8px">TMD 2</div>
<div class="ls" style="left:333.4px;top:299.7px">Expression: (TTOP+TBOT)/2</div>
<div class="ls" style="left:333.4px;top:304.2px">Time: 240</div>
<div class="lb" style="left:333.4px;top:313.00px;height:5.04px;background:#ff0000"></div>
<div class="lb" style="left:333.4px;top:317.94px;height:5.04px;background:#ffa000"></div>
<div class="lb" style="left:333.4px;top:322.89px;height:5.04px;background:#ffff00"></div>
<div class="lb" style="left:333.4px;top:327.83px;height:5.04px;background:#b0ff00"></div>
<div class="lb" style="left:333.4px;top:332.78px;height:5.04px;background:#00e000"></div>
<div class="lb" style="left:333.4px;top:337.72px;height:5.04px;background:#00ffb0"></div>
<div class="lb" style="left:333.4px;top:342.67px;height:5.04px;background:#00ffff"></div>
<div class="lb" style="left:333.4px;top:347.61px;height:5.04px;background:#00a8ff"></div>
<div class="lb" style="left:333.4px;top:352.56px;height:5.04px;background:#0000ff"></div>
<div class="ll" style="left:340.9px;top:313.1px">900</div>
<div class="ll" style="left:340.9px;top:318.0px">800</div>
<div class="ll" style="left:340.9px;top:332.9px">500</div>
<div class="ll" style="left:340.9px;top:337.8px">400</div>
<div class="ll" style="left:340.9px;top:342.8px">300</div>
<div class="ll" style="left:340.9px;top:347.7px">200</div>
<div class="ll" style="left:340.9px;top:352.7px">100</div>
<div class="lm" style="left:340.9px;top:324.0px">674,7 Max</div>
<div class="lm" style="left:340.9px;top:357.6px">0 Min</div>
<div class="lt" style="left:32.5px;top:486.7px">G: Transient Thermal - krzywa standardowa</div>
<div class="ls" style="left:32.5px;top:490.8px">TMD 3</div>
<div class="ls" style="left:32.5px;top:495.7px">Expression: (TTOP+TBOT)/2</div>
<div class="ls" style="left:32.5px;top:500.2px">Time: 900</div>
<div class="lb" style="left:32.5px;top:509.00px;height:5.04px;background:#ff0000"></div>
<div class="lb" style="left:32.5px;top:513.94px;height:5.04px;background:#ffa000"></div>
<div class="lb" style="left:32.5px;top:518.89px;height:5.04px;background:#ffff00"></div>
<div class="lb" style="left:32.5px;top:523.83px;height:5.04px;background:#b0ff00"></div>
<div class="lb" style="left:32.5px;top:528.78px;height:5.04px;background:#00e000"></div>
<div class="lb" style="left:32.5px;top:533.72px;height:5.04px;background:#00ffb0"></div>
<div class="lb" style="left:32.5px;top:538.67px;height:5.04px;background:#00ffff"></div>
<div class="lb" style="left:32.5px;top:543.61px;height:5.04px;background:#00a8ff"></div>
<div class="lb" style="left:32.5px;top:548.56px;height:5.04px;background:#0000ff"></div>
<div class="ll" style="left:40.0px;top:509.1px">900</div>
<div class="ll" style="left:40.0px;top:514.0px">800</div>
<div class="ll" style="left:40.0px;top:528.9px">500</div>
<div class="ll" style="left:40.0px;top:533.8px">400</div>
<div class="ll" style="left:40.0px;top:538.8px">300</div>
<div class="ll" style="left:40.0px;top:543.7px">200</div>
<div class="ll" style="left:40.0px;top:548.7px">100</div>
<div class="lm" style="left:40.0px;top:522.9px">612,22 Max</div>
<div class="lm" style="left:40.0px;top:553.6px">0 Min</div>
<div class="lt" style="left:333.4px;top:486.7px">A: Transient Thermal - krzywa węglowodorowa</div>
<div class="ls" style="left:333.4px;top:490.8px">TMD 3</div>
<div class="ls" style="left:333.4px;top:495.7px">Expression: (TTOP+TBOT)/2</div>
<div class="ls" style="left:333.4px;top:500.2px">Time: 900</div>
<div class="lb" style="left:333.4px;top:509.00px;height:5.04px;background:#ff0000"></div>
<div class="lb" style="left:333.4px;top:513.94px;height:5.04px;background:#ffa000"></div>
<div class="lb" style="left:333.4px;top:518.89px;height:5.04px;background:#ffff00"></div>
<div class="lb" style="left:333.4px;top:523.83px;height:5.04px;background:#b0ff00"></div>
<div class="lb" style="left:333.4px;top:528.78px;height:5.04px;background:#00e000"></div>
<div class="lb" style="left:333.4px;top:533.72px;height:5.04px;background:#00ffb0"></div>
<div class="lb" style="left:333.4px;top:538.67px;height:5.04px;background:#00ffff"></div>
<div class="lb" style="left:333.4px;top:543.61px;height:5.04px;background:#00a8ff"></div>
<div class="lb" style="left:333.4px;top:548.56px;height:5.04px;background:#0000ff"></div>
<div class="ll" style="left:340.9px;top:514.0px">800</div>
<div class="ll" style="left:340.9px;top:519.0px">700</div>
<div class="ll" style="left:340.9px;top:523.9px">600</div>
<div class="ll" style="left:340.9px;top:528.9px">500</div>
<div class="ll" style="left:340.9px;top:533.8px">400</div>
<div class="ll" style="left:340.9px;top:538.8px">300</div>
<div class="ll" style="left:340.9px;top:543.7px">200</div>
<div class="ll" style="left:340.9px;top:548.7px">100</div>
<div class="lm" style="left:340.9px;top:509.1px">938,29 Max</div>
<div class="lm" style="left:340.9px;top:553.6px">0 Min</div>
<div class="lt" style="left:32.5px;top:683.5px">G: Transient Thermal - krzywa standardowa</div>
<div class="ls" style="left:32.5px;top:687.6px">TMD 4</div>
<div class="ls" style="left:32.5px;top:692.5px">Expression: (TTOP+TBOT)/2</div>
<div class="ls" style="left:32.5px;top:697.0px">Time: 3600</div>
<div class="lb" style="left:32.5px;top:705.80px;height:5.04px;background:#ff0000"></div>
<div class="lb" style="left:32.5px;top:710.74px;height:5.04px;background:#ffa000"></div>
<div class="lb" style="left:32.5px;top:715.69px;height:5.04px;background:#ffff00"></div>
<div class="lb" style="left:32.5px;top:720.63px;height:5.04px;background:#b0ff00"></div>
<div class="lb" style="left:32.5px;top:725.58px;height:5.04px;background:#00e000"></div>
<div class="lb" style="left:32.5px;top:730.52px;height:5.04px;background:#00ffb0"></div>
<div class="lb" style="left:32.5px;top:735.47px;height:5.04px;background:#00ffff"></div>
<div class="lb" style="left:32.5px;top:740.41px;height:5.04px;background:#00a8ff"></div>
<div class="lb" style="left:32.5px;top:745.36px;height:5.04px;background:#0000ff"></div>
<div class="ll" style="left:40.0px;top:710.8px">800</div>
<div class="ll" style="left:40.0px;top:715.8px">700</div>
<div class="ll" style="left:40.0px;top:720.7px">600</div>
<div class="ll" style="left:40.0px;top:725.7px">500</div>
<div class="ll" style="left:40.0px;top:730.6px">400</div>
<div class="ll" style="left:40.0px;top:735.6px">300</div>
<div class="ll" style="left:40.0px;top:740.5px">200</div>
<div class="ll" style="left:40.0px;top:745.5px">100</div>
<div class="lm" style="left:40.0px;top:705.9px">878,89 Max</div>
<div class="lm" style="left:40.0px;top:750.4px">0 Min</div>
<div class="lt" style="left:333.4px;top:683.5px">A: Transient Thermal - krzywa węglowodorowa</div>
<div class="ls" style="left:333.4px;top:687.6px">TMD 4</div>
<div class="ls" style="left:333.4px;top:692.5px">Expression: (TTOP+TBOT)/2</div>
<div class="ls" style="left:333.4px;top:697.0px">Time: 3600</div>
<div class="lb" style="left:333.4px;top:705.80px;height:5.04px;background:#ff0000"></div>
<div class="lb" style="left:333.4px;top:710.74px;height:5.04px;background:#ffa000"></div>
<div class="lb" style="left:333.4px;top:715.69px;height:5.04px;background:#ffff00"></div>
<div class="lb" style="left:333.4px;top:720.63px;height:5.04px;background:#b0ff00"></div>
<div class="lb" style="left:333.4px;top:725.58px;height:5.04px;background:#00e000"></div>
<div class="lb" style="left:333.4px;top:730.52px;height:5.04px;background:#00ffb0"></div>
<div class="lb" style="left:333.4px;top:735.47px;height:5.04px;background:#00ffff"></div>
<div class="lb" style="left:333.4px;top:740.41px;height:5.04px;background:#00a8ff"></div>
<div class="lb" style="left:333.4px;top:745.36px;height:5.04px;background:#0000ff"></div>
<div class="ll" style="left:340.9px;top:710.8px">800</div>
<div class="ll" style="left:340.9px;top:715.8px">700</div>
<div class="ll" style="left:340.9px;top:720.7px">600</div>
<div class="ll" style="left:340.9px;top:725.7px">500</div>
<div class="ll" style="left:340.9px;top:730.6px">400</div>
<div class="ll" style="left:340.9px;top:735.6px">300</div>
<div class="ll" style="left:340.9px;top:740.5px">200</div>
<div class="ll" style="left:340.9px;top:745.5px">100</div>
<div class="lm" style="left:340.9px;top:705.9px">1047,8 Max</div>
<div class="lm" style="left:340.9px;top:750.4px">0 Min</div>
<div class="tx h1" style="left:27.6px;top:17.1px">Pożar standardowy</div>
<div class="tx h2" style="left:444.7px;top:17.1px">Pożar węglowodorowy</div>
<div class="tx tl" style="left:27.9px;top:54.1px">Tmax = 231°C</div>
<div class="tx tm" style="left:236.0px;top:54.1px">czas 60s</div>
<div class="tx tr" style="left:444.8px;top:54.1px">Tmax = 561°C</div>
<div class="tx tl" style="left:27.9px;top:250.8px">Tmax = 361°C</div>
<div class="tx tm" style="left:236.0px;top:250.8px">czas 240s</div>
<div class="tx tr" style="left:444.8px;top:250.8px">Tmax = 675°C</div>
<div class="tx tl" style="left:27.9px;top:447.1px">Tmax = 612°C</div>
<div class="tx tm" style="left:236.0px;top:447.1px">czas 900s</div>
<div class="tx tr" style="left:444.8px;top:447.1px">Tmax = 938°C</div>
<div class="tx tl" style="left:27.9px;top:644.1px">Tmax = 879°C</div>
<div class="tx tm" style="left:236.0px;top:644.1px">czas 3600s</div>
<div class="tx tr" style="left:444.8px;top:644.1px">Tmax = 1048°C</div>
</body></html>
